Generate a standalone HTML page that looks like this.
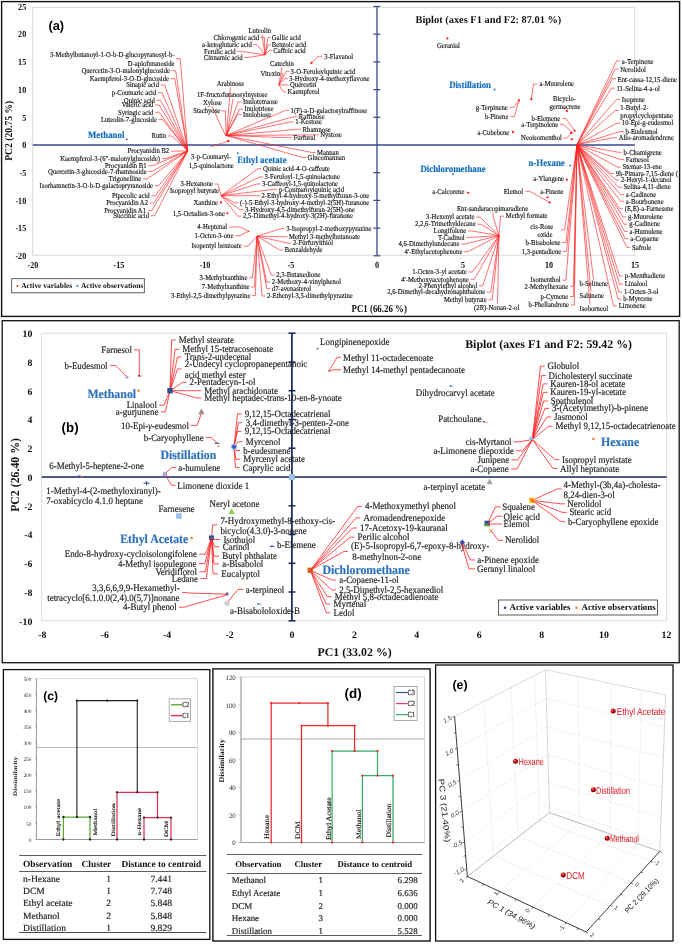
<!DOCTYPE html>
<html><head><meta charset="utf-8"><title>Figure</title>
<style>
html,body{margin:0;padding:0;background:#fff;}
body{width:682px;height:944px;overflow:hidden;font-family:"Liberation Serif",serif;}
svg{display:block;will-change:transform;}
text{text-rendering:geometricPrecision;}
text.s{font-family:"Liberation Serif",serif;}
text.k{stroke:#222;stroke-width:0.16px;}
text.n{font-family:"Liberation Sans",sans-serif;}
</style></head><body>
<svg width="682" height="944" viewBox="0 0 682 944">
<rect x="0" y="0" width="682" height="944" fill="#ffffff"/>
<g>
<rect x="1.6" y="1.6" width="678.0" height="314.8" fill="none" stroke="#111" stroke-width="1.4"/>
<rect x="32.8" y="7.3" width="601.9" height="247.9" fill="#fff" stroke="#d0d0d0" stroke-width="0.8"/>
<polyline points="32.8,145.0 634.7,145.0" fill="none" stroke="#36498c" stroke-width="1.3"/>
<polyline points="377.0,7.3 377.0,255.2" fill="none" stroke="#36498c" stroke-width="1.3"/>
<polyline points="373.4,6.5 380.3,6.5" fill="none" stroke="#36498c" stroke-width="1.2"/>
<polyline points="373.4,34.2 380.3,34.2" fill="none" stroke="#36498c" stroke-width="1.2"/>
<polyline points="373.4,61.9 380.3,61.9" fill="none" stroke="#36498c" stroke-width="1.2"/>
<polyline points="373.4,89.6 380.3,89.6" fill="none" stroke="#36498c" stroke-width="1.2"/>
<polyline points="373.4,117.3 380.3,117.3" fill="none" stroke="#36498c" stroke-width="1.2"/>
<polyline points="373.4,172.7 380.3,172.7" fill="none" stroke="#36498c" stroke-width="1.2"/>
<polyline points="373.4,200.4 380.3,200.4" fill="none" stroke="#36498c" stroke-width="1.2"/>
<polyline points="373.4,228.1 380.3,228.1" fill="none" stroke="#36498c" stroke-width="1.2"/>
<polyline points="373.4,255.8 380.3,255.8" fill="none" stroke="#36498c" stroke-width="1.2"/>
<text class="s" transform="translate(26.2 9.7) scale(1 1.15)" text-anchor="end" font-size="8.1" font-weight="bold" fill="#111">25</text>
<text class="s" transform="translate(26.2 37.4) scale(1 1.15)" text-anchor="end" font-size="8.1" font-weight="bold" fill="#111">20</text>
<text class="s" transform="translate(26.2 65.1) scale(1 1.15)" text-anchor="end" font-size="8.1" font-weight="bold" fill="#111">15</text>
<text class="s" transform="translate(26.2 92.8) scale(1 1.15)" text-anchor="end" font-size="8.1" font-weight="bold" fill="#111">10</text>
<text class="s" transform="translate(26.2 120.5) scale(1 1.15)" text-anchor="end" font-size="8.1" font-weight="bold" fill="#111">5</text>
<text class="s" transform="translate(26.2 148.2) scale(1 1.15)" text-anchor="end" font-size="8.1" font-weight="bold" fill="#111">0</text>
<text class="s" transform="translate(26.2 175.9) scale(1 1.15)" text-anchor="end" font-size="8.1" font-weight="bold" fill="#111">-5</text>
<text class="s" transform="translate(26.2 203.6) scale(1 1.15)" text-anchor="end" font-size="8.1" font-weight="bold" fill="#111">-10</text>
<text class="s" transform="translate(26.2 231.3) scale(1 1.15)" text-anchor="end" font-size="8.1" font-weight="bold" fill="#111">-15</text>
<text class="s" transform="translate(26.2 259.0) scale(1 1.15)" text-anchor="end" font-size="8.1" font-weight="bold" fill="#111">-20</text>
<text class="s" transform="translate(33.0 268.1) scale(1 1.15)" text-anchor="middle" font-size="8.1" font-weight="bold" fill="#111">-20</text>
<text class="s" transform="translate(119.0 268.1) scale(1 1.15)" text-anchor="middle" font-size="8.1" font-weight="bold" fill="#111">-15</text>
<text class="s" transform="translate(205.0 268.1) scale(1 1.15)" text-anchor="middle" font-size="8.1" font-weight="bold" fill="#111">-10</text>
<text class="s" transform="translate(291.0 268.1) scale(1 1.15)" text-anchor="middle" font-size="8.1" font-weight="bold" fill="#111">-5</text>
<text class="s" transform="translate(377.0 268.1) scale(1 1.15)" text-anchor="middle" font-size="8.1" font-weight="bold" fill="#111">0</text>
<text class="s" transform="translate(463.0 268.1) scale(1 1.15)" text-anchor="middle" font-size="8.1" font-weight="bold" fill="#111">5</text>
<text class="s" transform="translate(549.0 268.1) scale(1 1.15)" text-anchor="middle" font-size="8.1" font-weight="bold" fill="#111">10</text>
<text class="s" transform="translate(635.0 268.1) scale(1 1.15)" text-anchor="middle" font-size="8.1" font-weight="bold" fill="#111">15</text>
<text class="s" transform="rotate(-90 8.4 130.8) translate(8.4 134.0) scale(1 1.1)" text-anchor="middle" font-size="9.6" font-weight="bold" fill="#111">PC2 (20.75 %)</text>
<text class="s" transform="translate(379.2 312.2) scale(1 1.2)" text-anchor="middle" font-size="8.85" font-weight="bold" fill="#111">PC1 (66.26 %)</text>
<text class="s" x="488.4" y="23.1" text-anchor="middle" font-size="10.4" font-weight="bold" fill="#111">Biplot (axes F1 and F2: 87.01 %)</text>
<text class="n" x="48.4" y="29.8" text-anchor="start" font-size="12.8" font-weight="bold" fill="#000">(a)</text>
<rect x="11.7" y="278.7" width="132.6" height="14.1" fill="#fff" stroke="#333" stroke-width="0.8"/>
<circle cx="17.5" cy="286.0" r="1.0" fill="#ff2020"/>
<text class="s" x="21.2" y="288.0" text-anchor="start" font-size="7.45" font-weight="bold" fill="#111">Active variables</text>
<circle cx="77.3" cy="286.0" r="1.0" fill="#2e75b6"/>
<text class="s" x="81.0" y="288.0" text-anchor="start" font-size="7.45" font-weight="bold" fill="#111">Active observations</text>
<text class="s k" transform="translate(174.5 57.3) scale(1 1.12)" text-anchor="end" font-size="6.68" fill="#1a1a1a">3-Methylbutanoyl-1-O-b-D-glucopyranosyl-b-</text>
<polyline points="176.2,58.6 180.2,58.6 187.7,151.0" fill="none" stroke="#ff2020" stroke-width="0.64"/>
<text class="s k" transform="translate(174.5 65.5) scale(1 1.12)" text-anchor="end" font-size="6.68" fill="#1a1a1a">D-apiofuranoside</text>
<text class="s k" transform="translate(170.0 72.9) scale(1 1.12)" text-anchor="end" font-size="6.68" fill="#1a1a1a">Quercetin-3-O-malonylglucoside</text>
<polyline points="171.7,70.7 175.7,70.7 187.7,151.0" fill="none" stroke="#ff2020" stroke-width="0.64"/>
<text class="s k" transform="translate(169.0 80.8) scale(1 1.12)" text-anchor="end" font-size="6.68" fill="#1a1a1a">Kaempferol-3-O-D-glucoside</text>
<polyline points="170.7,78.6 174.7,78.6 187.7,151.0" fill="none" stroke="#ff2020" stroke-width="0.64"/>
<text class="s k" transform="translate(159.0 87.2) scale(1 1.12)" text-anchor="end" font-size="6.68" fill="#1a1a1a">Sinapic acid</text>
<polyline points="160.7,85.0 164.7,85.0 187.7,151.0" fill="none" stroke="#ff2020" stroke-width="0.64"/>
<text class="s k" transform="translate(156.3 94.9) scale(1 1.12)" text-anchor="end" font-size="6.68" fill="#1a1a1a">p-Coumaric acid</text>
<polyline points="158.0,92.7 162.0,92.7 187.7,151.0" fill="none" stroke="#ff2020" stroke-width="0.64"/>
<text class="s k" transform="translate(154.8 102.5) scale(1 1.12)" text-anchor="end" font-size="6.68" fill="#1a1a1a">Quinic acid</text>
<polyline points="156.5,100.3 160.5,100.3 187.7,151.0" fill="none" stroke="#ff2020" stroke-width="0.64"/>
<text class="s k" transform="translate(153.4 107.2) scale(1 1.12)" text-anchor="end" font-size="6.68" fill="#1a1a1a">Valeric acid</text>
<polyline points="155.1,105.0 159.1,105.0 187.7,151.0" fill="none" stroke="#ff2020" stroke-width="0.64"/>
<text class="s k" transform="translate(153.4 114.5) scale(1 1.12)" text-anchor="end" font-size="6.68" fill="#1a1a1a">Syringic acid</text>
<polyline points="155.1,112.3 159.1,112.3 187.7,151.0" fill="none" stroke="#ff2020" stroke-width="0.64"/>
<text class="s k" transform="translate(156.9 121.8) scale(1 1.12)" text-anchor="end" font-size="6.68" fill="#1a1a1a">Luteolin-7-glucoside</text>
<polyline points="158.6,119.6 162.6,119.6 187.7,151.0" fill="none" stroke="#ff2020" stroke-width="0.64"/>
<text class="s k" transform="translate(166.3 138.2) scale(1 1.12)" text-anchor="end" font-size="6.68" fill="#1a1a1a">Rutin</text>
<polyline points="168.0,136.0 172.0,136.0 187.7,151.0" fill="none" stroke="#ff2020" stroke-width="0.64"/>
<text class="s k" transform="translate(169.2 153.3) scale(1 1.12)" text-anchor="end" font-size="6.68" fill="#1a1a1a">Procyanidin B2</text>
<polyline points="170.9,151.1 174.9,151.1 187.7,151.0" fill="none" stroke="#ff2020" stroke-width="0.64"/>
<text class="s k" transform="translate(160.1 160.7) scale(1 1.12)" text-anchor="end" font-size="6.68" fill="#1a1a1a">Kaempferol-3-(6"-malonylglucoside)</text>
<polyline points="161.8,158.5 165.8,158.5 187.7,151.0" fill="none" stroke="#ff2020" stroke-width="0.64"/>
<text class="s k" transform="translate(146.6 168.0) scale(1 1.12)" text-anchor="end" font-size="6.68" fill="#1a1a1a">Procyanidin B1</text>
<polyline points="148.3,165.8 152.3,165.8 187.7,151.0" fill="none" stroke="#ff2020" stroke-width="0.64"/>
<text class="s k" transform="translate(146.6 173.6) scale(1 1.12)" text-anchor="end" font-size="6.68" fill="#1a1a1a">Quercetin-3-glucoside-7-rhamnoside</text>
<polyline points="148.3,171.4 152.3,171.4 187.7,151.0" fill="none" stroke="#ff2020" stroke-width="0.64"/>
<text class="s k" transform="translate(141.3 181.2) scale(1 1.12)" text-anchor="end" font-size="6.68" fill="#1a1a1a">Trigonelline</text>
<polyline points="143.0,179.0 147.0,179.0 187.7,151.0" fill="none" stroke="#ff2020" stroke-width="0.64"/>
<text class="s k" transform="translate(153.0 187.9) scale(1 1.12)" text-anchor="end" font-size="6.68" fill="#1a1a1a">Isorhamnetin-3-O-b-D-galactopryranoside</text>
<polyline points="154.7,185.7 158.7,185.7 187.7,151.0" fill="none" stroke="#ff2020" stroke-width="0.64"/>
<text class="s k" transform="translate(149.6 197.9) scale(1 1.12)" text-anchor="end" font-size="6.68" fill="#1a1a1a">Pipecolic acid</text>
<polyline points="151.3,195.7 155.3,195.7 187.7,151.0" fill="none" stroke="#ff2020" stroke-width="0.64"/>
<text class="s k" transform="translate(148.0 205.2) scale(1 1.12)" text-anchor="end" font-size="6.68" fill="#1a1a1a">Procyanidin A2</text>
<polyline points="149.7,203.0 153.7,203.0 187.7,151.0" fill="none" stroke="#ff2020" stroke-width="0.64"/>
<text class="s k" transform="translate(146.0 212.9) scale(1 1.12)" text-anchor="end" font-size="6.68" fill="#1a1a1a">Procyanidin A1</text>
<polyline points="147.7,210.7 151.7,210.7 187.7,151.0" fill="none" stroke="#ff2020" stroke-width="0.64"/>
<text class="s k" transform="translate(149.0 217.9) scale(1 1.12)" text-anchor="end" font-size="6.68" fill="#1a1a1a">Succinic acid</text>
<polyline points="150.7,215.7 154.7,215.7 187.7,151.0" fill="none" stroke="#ff2020" stroke-width="0.64"/>
<text class="s" transform="translate(88.0 137.9) scale(1 1.1)" text-anchor="start" font-size="8.85" font-weight="bold" fill="#0f6cc0" stroke="#0f6cc0" stroke-width="0.15">Methanol</text>
<circle cx="126.7" cy="139.3" r="1.0" fill="#2e75b6"/>
<text class="s k" transform="translate(259.8 32.7) scale(1 1.12)" text-anchor="middle" font-size="6.68" fill="#1a1a1a">Luteolin</text>
<polyline points="262.0,34.5 265.0,54.8" fill="none" stroke="#ff2020" stroke-width="0.64"/>
<text class="s k" transform="translate(259.2 39.7) scale(1 1.12)" text-anchor="end" font-size="6.68" fill="#1a1a1a">Chlorogenic acid</text>
<polyline points="260.9,37.5 264.4,37.5 265.0,54.8" fill="none" stroke="#ff2020" stroke-width="0.64"/>
<text class="s k" transform="translate(251.8 46.8) scale(1 1.12)" text-anchor="end" font-size="6.68" fill="#1a1a1a">a-ketoglutaric acid</text>
<polyline points="253.5,44.6 257.0,44.6 265.0,54.8" fill="none" stroke="#ff2020" stroke-width="0.64"/>
<text class="s k" transform="translate(235.7 53.5) scale(1 1.12)" text-anchor="end" font-size="6.68" fill="#1a1a1a">Ferulic acid</text>
<polyline points="237.4,51.3 240.9,51.3 265.0,54.8" fill="none" stroke="#ff2020" stroke-width="0.64"/>
<text class="s k" transform="translate(242.5 59.7) scale(1 1.12)" text-anchor="end" font-size="6.68" fill="#1a1a1a">Cinnamic acid</text>
<polyline points="244.2,57.5 247.7,57.5 265.0,54.8" fill="none" stroke="#ff2020" stroke-width="0.64"/>
<text class="s k" transform="translate(271.8 39.7) scale(1 1.12)" text-anchor="start" font-size="6.68" fill="#1a1a1a">Gallic acid</text>
<polyline points="270.6,37.5 268.1,37.5 265.0,54.8" fill="none" stroke="#ff2020" stroke-width="0.64"/>
<text class="s k" transform="translate(271.8 47.1) scale(1 1.12)" text-anchor="start" font-size="6.68" fill="#1a1a1a">Benzoic acid</text>
<polyline points="270.6,44.9 268.1,44.9 265.0,54.8" fill="none" stroke="#ff2020" stroke-width="0.64"/>
<text class="s k" transform="translate(273.3 52.6) scale(1 1.12)" text-anchor="start" font-size="6.68" fill="#1a1a1a">Caffeic acid</text>
<polyline points="272.1,50.4 269.6,50.4 265.0,54.8" fill="none" stroke="#ff2020" stroke-width="0.64"/>
<text class="s k" transform="translate(324.3 58.5) scale(1 1.12)" text-anchor="start" font-size="6.68" fill="#1a1a1a">3-Flavanol</text>
<polyline points="322.0,56.3 318.0,56.3 311.4,63.0" fill="none" stroke="#ff2020" stroke-width="0.64"/>
<circle cx="311.4" cy="63.0" r="1.15" fill="#ff2020"/>
<text class="s k" transform="translate(270.0 65.5) scale(1 1.12)" text-anchor="start" font-size="6.68" fill="#1a1a1a">Catechin</text>
<polyline points="282.0,67.5 278.8,85.0" fill="none" stroke="#ff2020" stroke-width="0.64"/>
<text class="s k" transform="translate(260.6 76.1) scale(1 1.12)" text-anchor="start" font-size="6.68" fill="#1a1a1a">Vitexin</text>
<polyline points="280.5,73.9 283.0,73.9 278.8,85.0" fill="none" stroke="#ff2020" stroke-width="0.64"/>
<text class="s k" transform="translate(290.6 73.5) scale(1 1.12)" text-anchor="start" font-size="6.68" fill="#1a1a1a">3-O-Feruloylquinic acid</text>
<polyline points="289.4,71.3 286.4,71.3 278.8,85.0" fill="none" stroke="#ff2020" stroke-width="0.64"/>
<text class="s k" transform="translate(289.1 80.8) scale(1 1.12)" text-anchor="start" font-size="6.68" fill="#1a1a1a">3-Hydroxy-4-methoxyflavone</text>
<polyline points="287.9,78.6 284.9,78.6 278.8,85.0" fill="none" stroke="#ff2020" stroke-width="0.64"/>
<text class="s k" transform="translate(290.0 87.0) scale(1 1.12)" text-anchor="start" font-size="6.68" fill="#1a1a1a">Quercetin</text>
<polyline points="288.8,84.8 285.8,84.8 278.8,85.0" fill="none" stroke="#ff2020" stroke-width="0.64"/>
<text class="s k" transform="translate(287.6 94.0) scale(1 1.12)" text-anchor="start" font-size="6.68" fill="#1a1a1a">Kaempferol</text>
<polyline points="286.4,91.8 283.4,91.8 278.8,85.0" fill="none" stroke="#ff2020" stroke-width="0.64"/>
<text class="s k" transform="translate(230.4 85.5) scale(1 1.12)" text-anchor="middle" font-size="6.68" fill="#1a1a1a">Arabinose</text>
<polyline points="230.4,87.3 226.5,135.5" fill="none" stroke="#ff2020" stroke-width="0.64"/>
<text class="s k" transform="translate(197.0 96.9) scale(1 1.12)" text-anchor="start" font-size="6.68" fill="#1a1a1a">1F-fructofuranosylnystose</text>
<polyline points="233.0,98.5 227.0,135.5" fill="none" stroke="#ff2020" stroke-width="0.64"/>
<text class="s k" transform="translate(202.9 104.8) scale(1 1.12)" text-anchor="start" font-size="6.68" fill="#1a1a1a">Xylose</text>
<polyline points="212.0,106.5 225.5,135.5" fill="none" stroke="#ff2020" stroke-width="0.64"/>
<text class="s k" transform="translate(193.2 113.1) scale(1 1.12)" text-anchor="start" font-size="6.68" fill="#1a1a1a">Stachyose</text>
<polyline points="221.0,110.9 225.5,110.9 226.0,135.5" fill="none" stroke="#ff2020" stroke-width="0.64"/>
<text class="s k" transform="translate(243.0 104.2) scale(1 1.12)" text-anchor="start" font-size="6.68" fill="#1a1a1a">Inulotetraose</text>
<polyline points="241.5,102.0 238.0,102.0 226.0,135.5" fill="none" stroke="#ff2020" stroke-width="0.64"/>
<text class="s k" transform="translate(244.5 111.3) scale(1 1.12)" text-anchor="start" font-size="6.68" fill="#1a1a1a">Inulotriose</text>
<polyline points="243.0,109.1 239.5,109.1 226.0,135.5" fill="none" stroke="#ff2020" stroke-width="0.64"/>
<text class="s k" transform="translate(243.0 116.6) scale(1 1.12)" text-anchor="start" font-size="6.68" fill="#1a1a1a">Inulobiose</text>
<polyline points="241.5,114.4 238.0,114.4 226.0,135.5" fill="none" stroke="#ff2020" stroke-width="0.64"/>
<text class="s k" transform="translate(290.6 112.5) scale(1 1.12)" text-anchor="start" font-size="6.68" fill="#1a1a1a">1(F)-a-D-galactosylraffinose</text>
<polyline points="289.1,110.3 285.6,110.3 226.0,135.5" fill="none" stroke="#ff2020" stroke-width="0.64"/>
<text class="s k" transform="translate(298.8 118.9) scale(1 1.12)" text-anchor="start" font-size="6.68" fill="#1a1a1a">Raffinose</text>
<polyline points="297.3,116.7 293.8,116.7 226.0,135.5" fill="none" stroke="#ff2020" stroke-width="0.64"/>
<text class="s k" transform="translate(295.2 124.2) scale(1 1.12)" text-anchor="start" font-size="6.68" fill="#1a1a1a">1-Kestose</text>
<polyline points="293.7,122.0 290.2,122.0 226.0,135.5" fill="none" stroke="#ff2020" stroke-width="0.64"/>
<text class="s k" transform="translate(302.6 131.5) scale(1 1.12)" text-anchor="start" font-size="6.68" fill="#1a1a1a">Rhamnose</text>
<polyline points="301.1,129.3 297.6,129.3 226.0,135.5" fill="none" stroke="#ff2020" stroke-width="0.64"/>
<text class="s k" transform="translate(320.2 137.1) scale(1 1.12)" text-anchor="start" font-size="6.68" fill="#1a1a1a">Nystose</text>
<polyline points="318.7,134.9 315.2,134.9 226.0,135.5" fill="none" stroke="#ff2020" stroke-width="0.64"/>
<text class="s k" transform="translate(293.5 140.0) scale(1 1.12)" text-anchor="start" font-size="6.68" fill="#1a1a1a">Furfural</text>
<polyline points="292.0,137.8 288.5,137.8 226.0,135.5" fill="none" stroke="#ff2020" stroke-width="0.64"/>
<text class="s k" transform="translate(317.0 154.7) scale(1 1.12)" text-anchor="start" font-size="6.68" fill="#1a1a1a">Mannan</text>
<polyline points="315.5,152.5 312.0,152.5 226.0,135.5" fill="none" stroke="#ff2020" stroke-width="0.64"/>
<text class="s k" transform="translate(307.6 159.7) scale(1 1.12)" text-anchor="start" font-size="6.68" fill="#1a1a1a">Glucomannan</text>
<polyline points="306.1,157.5 302.6,157.5 226.0,135.5" fill="none" stroke="#ff2020" stroke-width="0.64"/>
<circle cx="228.4" cy="141.0" r="1.15" fill="#ff2020"/>
<polyline points="210.8,146.8 228.0,141.2" fill="none" stroke="#ff2020" stroke-width="0.64"/>
<text class="s k" transform="translate(191.1 159.2) scale(1 1.12)" text-anchor="start" font-size="6.68" fill="#1a1a1a">3-p-Coumaryl-</text>
<text class="s k" transform="translate(188.8 167.7) scale(1 1.12)" text-anchor="start" font-size="6.68" fill="#1a1a1a">1,5-quinolactone</text>
<text class="s" transform="translate(237.2 163.1) scale(1 1.1)" text-anchor="start" font-size="8.85" font-weight="bold" fill="#0f6cc0" stroke="#0f6cc0" stroke-width="0.15">Ethyl acetate</text>
<circle cx="237.8" cy="153.2" r="1.0" fill="#2e75b6"/>
<text class="s k" transform="translate(263.0 170.9) scale(1 1.12)" text-anchor="start" font-size="6.68" fill="#1a1a1a">Quinic acid-4-O-caffeate</text>
<polyline points="261.5,168.7 258.0,168.7 221.0,195.7" fill="none" stroke="#ff2020" stroke-width="0.64"/>
<text class="s k" transform="translate(264.5 179.2) scale(1 1.12)" text-anchor="start" font-size="6.68" fill="#1a1a1a">3-Feruloyl-1,5-quinolactone</text>
<polyline points="263.0,177.0 259.5,177.0 221.0,195.7" fill="none" stroke="#ff2020" stroke-width="0.64"/>
<text class="s k" transform="translate(262.0 186.2) scale(1 1.12)" text-anchor="start" font-size="6.68" fill="#1a1a1a">3-Caffeoyl-1,5-quinolactone</text>
<polyline points="260.5,184.0 257.0,184.0 221.0,195.7" fill="none" stroke="#ff2020" stroke-width="0.64"/>
<text class="s k" transform="translate(279.0 191.5) scale(1 1.12)" text-anchor="start" font-size="6.68" fill="#1a1a1a">p-Coumaroylquinic acid</text>
<polyline points="277.5,189.3 274.0,189.3 221.0,195.7" fill="none" stroke="#ff2020" stroke-width="0.64"/>
<text class="s k" transform="translate(261.5 197.9) scale(1 1.12)" text-anchor="start" font-size="6.68" fill="#1a1a1a">2-Ethyl-4-hydroxy-5-methylfuran-3-one</text>
<polyline points="260.0,195.7 256.5,195.7 221.0,195.7" fill="none" stroke="#ff2020" stroke-width="0.64"/>
<text class="s k" transform="translate(240.0 205.0) scale(1 1.12)" text-anchor="start" font-size="6.68" fill="#1a1a1a">(-)-5-Ethyl-3-hydroxy-4-methyl-2(5H)-furanone</text>
<polyline points="238.5,202.8 235.0,202.8 221.0,195.7" fill="none" stroke="#ff2020" stroke-width="0.64"/>
<text class="s k" transform="translate(245.0 212.0) scale(1 1.12)" text-anchor="start" font-size="6.68" fill="#1a1a1a">3-Hydroxy-4,5-dimethylfuran-2(5H)-one</text>
<polyline points="243.5,209.8 240.0,209.8 221.0,195.7" fill="none" stroke="#ff2020" stroke-width="0.64"/>
<text class="s k" transform="translate(243.0 218.4) scale(1 1.12)" text-anchor="start" font-size="6.68" fill="#1a1a1a">2,5-Dimethyl-4-hydroxy-3(2H)-furanone</text>
<polyline points="241.5,216.2 238.0,216.2 221.0,195.7" fill="none" stroke="#ff2020" stroke-width="0.64"/>
<text class="s k" transform="translate(213.0 186.2) scale(1 1.12)" text-anchor="end" font-size="6.68" fill="#1a1a1a">3-Hexanone</text>
<polyline points="214.5,184.0 218.0,184.0 221.0,195.7" fill="none" stroke="#ff2020" stroke-width="0.64"/>
<text class="s k" transform="translate(219.0 192.9) scale(1 1.12)" text-anchor="end" font-size="6.68" fill="#1a1a1a">Isopropyl butyrate</text>
<text class="s k" transform="translate(218.0 205.2) scale(1 1.12)" text-anchor="end" font-size="6.68" fill="#1a1a1a">Xanthine</text>
<circle cx="221.0" cy="202.4" r="1.15" fill="#ff2020"/>
<text class="s k" transform="translate(224.9 216.1) scale(1 1.12)" text-anchor="end" font-size="6.68" fill="#1a1a1a">1,5-Octadien-3-one</text>
<circle cx="227.3" cy="213.3" r="1.15" fill="#ff2020"/>
<text class="s k" transform="translate(227.0 229.2) scale(1 1.12)" text-anchor="end" font-size="6.68" fill="#1a1a1a">4-Heptenal</text>
<polyline points="229.0,227.0 240.0,227.0 248.5,231.0" fill="none" stroke="#ff2020" stroke-width="0.64"/>
<text class="s k" transform="translate(233.4 237.8) scale(1 1.12)" text-anchor="end" font-size="6.68" fill="#1a1a1a">1-Octen-3-one</text>
<polyline points="235.4,235.6 240.0,235.6 248.5,231.3" fill="none" stroke="#ff2020" stroke-width="0.64"/>
<circle cx="248.7" cy="231.2" r="0.8" fill="#ff2020"/>
<text class="s k" transform="translate(241.6 248.4) scale(1 1.12)" text-anchor="end" font-size="6.68" fill="#1a1a1a">Isopentyl benzoate</text>
<polyline points="243.5,246.2 248.0,246.2 257.1,236.2" fill="none" stroke="#ff2020" stroke-width="0.64"/>
<text class="s k" transform="translate(286.2 230.8) scale(1 1.12)" text-anchor="start" font-size="6.68" fill="#1a1a1a">3-Isopropyl-2-methoxypyrazine</text>
<polyline points="284.7,228.6 281.2,228.6 257.1,236.2" fill="none" stroke="#ff2020" stroke-width="0.64"/>
<text class="s k" transform="translate(289.0 239.0) scale(1 1.12)" text-anchor="start" font-size="6.68" fill="#1a1a1a">Methyl 3-methylbutanoate</text>
<polyline points="287.5,236.8 284.0,236.8 257.1,236.2" fill="none" stroke="#ff2020" stroke-width="0.64"/>
<text class="s k" transform="translate(293.0 245.4) scale(1 1.12)" text-anchor="start" font-size="6.68" fill="#1a1a1a">2-Furfurylthiol</text>
<polyline points="291.5,243.2 288.0,243.2 257.1,236.2" fill="none" stroke="#ff2020" stroke-width="0.64"/>
<text class="s k" transform="translate(284.7 252.2) scale(1 1.12)" text-anchor="start" font-size="6.68" fill="#1a1a1a">Benzaldehyde</text>
<polyline points="283.2,250.0 279.7,250.0 257.1,236.2" fill="none" stroke="#ff2020" stroke-width="0.64"/>
<text class="s k" transform="translate(276.2 277.2) scale(1 1.12)" text-anchor="start" font-size="6.68" fill="#1a1a1a">2,3-Butanedione</text>
<polyline points="274.7,275.0 271.2,275.0 257.1,236.2" fill="none" stroke="#ff2020" stroke-width="0.64"/>
<text class="s k" transform="translate(271.8 284.4) scale(1 1.12)" text-anchor="start" font-size="6.68" fill="#1a1a1a">2-Methoxy-4-vinylphenol</text>
<polyline points="270.3,282.2 266.8,282.2 257.1,236.2" fill="none" stroke="#ff2020" stroke-width="0.64"/>
<text class="s k" transform="translate(271.8 290.9) scale(1 1.12)" text-anchor="start" font-size="6.68" fill="#1a1a1a">d7-avenasterol</text>
<polyline points="270.3,288.7 266.8,288.7 257.1,236.2" fill="none" stroke="#ff2020" stroke-width="0.64"/>
<text class="s k" transform="translate(267.0 298.2) scale(1 1.12)" text-anchor="start" font-size="6.68" fill="#1a1a1a">2-Ethenyl-3,5-dimethylpyrazine</text>
<polyline points="265.5,296.0 262.0,296.0 257.1,236.2" fill="none" stroke="#ff2020" stroke-width="0.64"/>
<text class="s k" transform="translate(247.4 280.0) scale(1 1.12)" text-anchor="end" font-size="6.68" fill="#1a1a1a">3-Methylxanthine</text>
<polyline points="248.9,277.8 252.4,277.8 257.1,236.2" fill="none" stroke="#ff2020" stroke-width="0.64"/>
<text class="s k" transform="translate(249.5 289.2) scale(1 1.12)" text-anchor="end" font-size="6.68" fill="#1a1a1a">7-Methylxanthine</text>
<polyline points="251.0,287.0 254.5,287.0 257.1,236.2" fill="none" stroke="#ff2020" stroke-width="0.64"/>
<text class="s k" transform="translate(250.4 297.8) scale(1 1.12)" text-anchor="end" font-size="6.68" fill="#1a1a1a">3-Ethyl-2,5-dimethylpyrazine</text>
<polyline points="251.9,295.6 255.4,295.6 257.1,236.2" fill="none" stroke="#ff2020" stroke-width="0.64"/>
<text class="s k" transform="translate(436.9 48.2) scale(1 1.12)" text-anchor="start" font-size="6.68" fill="#1a1a1a">Geranial</text>
<circle cx="447.4" cy="38.4" r="1.15" fill="#ff2020"/>
<text class="s" transform="translate(449.2 87.9) scale(1 1.1)" text-anchor="start" font-size="8.85" font-weight="bold" fill="#0f6cc0" stroke="#0f6cc0" stroke-width="0.15">Distillation</text>
<circle cx="494.6" cy="89.4" r="1.0" fill="#2e75b6"/>
<text class="s k" transform="translate(507.8 109.5) scale(1 1.12)" text-anchor="end" font-size="6.68" fill="#1a1a1a">g-Terpinene</text>
<polyline points="510.0,107.3 513.7,107.3 519.0,100.3" fill="none" stroke="#ff2020" stroke-width="0.64"/>
<text class="s k" transform="translate(508.4 118.9) scale(1 1.12)" text-anchor="end" font-size="6.68" fill="#1a1a1a">b-Pinene</text>
<polyline points="510.5,116.7 514.3,116.7 519.0,100.3" fill="none" stroke="#ff2020" stroke-width="0.64"/>
<circle cx="519.0" cy="100.3" r="1.15" fill="#ff2020"/>
<text class="s k" transform="translate(509.3 134.8) scale(1 1.12)" text-anchor="end" font-size="6.68" fill="#1a1a1a">a-Cubebene</text>
<circle cx="513.0" cy="132.0" r="1.15" fill="#ff2020"/>
<text class="s k" transform="translate(539.5 86.4) scale(1 1.12)" text-anchor="start" font-size="6.68" fill="#1a1a1a">a-Muurolene</text>
<polyline points="537.5,84.2 533.5,84.2 531.3,99.0" fill="none" stroke="#ff2020" stroke-width="0.64"/>
<circle cx="531.3" cy="99.2" r="1.15" fill="#ff2020"/>
<text class="s k" transform="translate(553.0 100.5) scale(1 1.12)" text-anchor="start" font-size="6.68" fill="#1a1a1a">Bicyclo-</text>
<text class="s k" transform="translate(549.4 109.0) scale(1 1.12)" text-anchor="start" font-size="6.68" fill="#1a1a1a">germacrene</text>
<circle cx="566.8" cy="111.0" r="1.15" fill="#ff2020"/>
<text class="s k" transform="translate(560.3 120.6) scale(1 1.12)" text-anchor="end" font-size="6.68" fill="#1a1a1a">b-Elemene</text>
<polyline points="562.5,118.4 565.7,118.4 574.6,130.6" fill="none" stroke="#ff2020" stroke-width="0.64"/>
<text class="s k" transform="translate(558.3 126.5) scale(1 1.12)" text-anchor="end" font-size="6.68" fill="#1a1a1a">a-Terpinolene</text>
<polyline points="559.8,124.3 563.4,124.3 573.5,133.7" fill="none" stroke="#ff2020" stroke-width="0.64"/>
<text class="s k" transform="translate(561.9 140.4) scale(1 1.12)" text-anchor="end" font-size="6.68" fill="#1a1a1a">Neoisomenthol</text>
<polyline points="563.4,138.2 566.8,138.2 571.2,133.0" fill="none" stroke="#ff2020" stroke-width="0.64"/>
<circle cx="574.6" cy="130.8" r="1.15" fill="#ff2020"/>
<circle cx="571.2" cy="133.0" r="1.15" fill="#ff2020"/>
<circle cx="571.9" cy="139.3" r="1.15" fill="#ff2020"/>
<text class="s k" transform="translate(621.8 64.2) scale(1 1.12)" text-anchor="start" font-size="6.68" fill="#1a1a1a">a-Terpinene</text>
<polyline points="620.0,60.8 616.7,60.8 577.0,144.7" fill="none" stroke="#ff2020" stroke-width="0.64"/>
<text class="s k" transform="translate(620.3 72.4) scale(1 1.12)" text-anchor="start" font-size="6.68" fill="#1a1a1a">Nerolidol</text>
<polyline points="618.5,69.0 615.2,69.0 577.0,144.7" fill="none" stroke="#ff2020" stroke-width="0.64"/>
<text class="s k" transform="translate(617.6 81.5) scale(1 1.12)" text-anchor="start" font-size="6.68" fill="#1a1a1a">Ent-cassa-12,15-diene</text>
<polyline points="615.8,78.5 612.5,78.5 577.0,144.7" fill="none" stroke="#ff2020" stroke-width="0.64"/>
<text class="s k" transform="translate(616.5 90.9) scale(1 1.12)" text-anchor="start" font-size="6.68" fill="#1a1a1a">11-Selina-4-a-ol</text>
<polyline points="614.7,88.2 611.4,88.2 577.0,144.7" fill="none" stroke="#ff2020" stroke-width="0.64"/>
<text class="s k" transform="translate(621.8 102.0) scale(1 1.12)" text-anchor="start" font-size="6.68" fill="#1a1a1a">Isoprene</text>
<polyline points="620.0,99.3 616.7,99.3 577.0,144.7" fill="none" stroke="#ff2020" stroke-width="0.64"/>
<text class="s k" transform="translate(620.3 109.8) scale(1 1.12)" text-anchor="start" font-size="6.68" fill="#1a1a1a">1-Butyl-2-</text>
<polyline points="618.5,110.5 615.2,110.5 577.0,144.7" fill="none" stroke="#ff2020" stroke-width="0.64"/>
<text class="s k" transform="translate(620.3 118.1) scale(1 1.12)" text-anchor="start" font-size="6.68" fill="#1a1a1a">propylcyclopentane</text>
<text class="s k" transform="translate(621.8 125.4) scale(1 1.12)" text-anchor="start" font-size="6.68" fill="#1a1a1a">10-Epi-g-eudesmol</text>
<polyline points="620.0,123.2 616.7,123.2 577.0,144.7" fill="none" stroke="#ff2020" stroke-width="0.64"/>
<text class="s k" transform="translate(625.4 133.7) scale(1 1.12)" text-anchor="start" font-size="6.68" fill="#1a1a1a">b-Eudesmol</text>
<polyline points="623.6,131.5 620.3,131.5 577.0,144.7" fill="none" stroke="#ff2020" stroke-width="0.64"/>
<text class="s k" transform="translate(618.7 139.9) scale(1 1.12)" text-anchor="start" font-size="6.68" fill="#1a1a1a">Allo-aromadendrene</text>
<polyline points="616.9,137.7 613.6,137.7 577.0,144.7" fill="none" stroke="#ff2020" stroke-width="0.64"/>
<text class="s k" transform="translate(623.6 154.5) scale(1 1.12)" text-anchor="start" font-size="6.68" fill="#1a1a1a">b-Chamigrene</text>
<polyline points="621.8,152.3 618.5,152.3 577.0,144.7" fill="none" stroke="#ff2020" stroke-width="0.64"/>
<text class="s k" transform="translate(625.8 161.8) scale(1 1.12)" text-anchor="start" font-size="6.68" fill="#1a1a1a">Farnesol</text>
<polyline points="624.0,159.6 620.7,159.6 577.0,144.7" fill="none" stroke="#ff2020" stroke-width="0.64"/>
<text class="s k" transform="translate(622.5 169.4) scale(1 1.12)" text-anchor="start" font-size="6.68" fill="#1a1a1a">Stemar-13-ene</text>
<polyline points="620.7,167.2 617.4,167.2 577.0,144.7" fill="none" stroke="#ff2020" stroke-width="0.64"/>
<text class="s k" transform="translate(615.8 175.6) scale(1 1.12)" text-anchor="start" font-size="6.68" fill="#1a1a1a">9b-Pimara-7,15-diene (</text>
<polyline points="614.0,173.4 610.7,173.4 577.0,144.7" fill="none" stroke="#ff2020" stroke-width="0.64"/>
<text class="s k" transform="translate(621.0 182.2) scale(1 1.12)" text-anchor="start" font-size="6.68" fill="#1a1a1a">2-Hexyl-1-decanol</text>
<polyline points="619.2,180.0 615.9,180.0 577.0,144.7" fill="none" stroke="#ff2020" stroke-width="0.64"/>
<text class="s k" transform="translate(623.6 189.4) scale(1 1.12)" text-anchor="start" font-size="6.68" fill="#1a1a1a">Selina-4,11-diene</text>
<polyline points="621.8,187.2 618.5,187.2 577.0,144.7" fill="none" stroke="#ff2020" stroke-width="0.64"/>
<text class="s k" transform="translate(625.8 196.8) scale(1 1.12)" text-anchor="start" font-size="6.68" fill="#1a1a1a">a-Cadinene</text>
<polyline points="624.0,194.6 620.7,194.6 577.0,144.7" fill="none" stroke="#ff2020" stroke-width="0.64"/>
<text class="s k" transform="translate(625.8 203.5) scale(1 1.12)" text-anchor="start" font-size="6.68" fill="#1a1a1a">a-Bourbonene</text>
<polyline points="624.0,201.3 620.7,201.3 577.0,144.7" fill="none" stroke="#ff2020" stroke-width="0.64"/>
<text class="s k" transform="translate(624.7 210.6) scale(1 1.12)" text-anchor="start" font-size="6.68" fill="#1a1a1a">(E,E)-a-Farnesene</text>
<polyline points="622.9,208.4 619.6,208.4 577.0,144.7" fill="none" stroke="#ff2020" stroke-width="0.64"/>
<text class="s k" transform="translate(628.0 219.1) scale(1 1.12)" text-anchor="start" font-size="6.68" fill="#1a1a1a">g-Muurolene</text>
<polyline points="626.2,216.9 622.9,216.9 577.0,144.7" fill="none" stroke="#ff2020" stroke-width="0.64"/>
<text class="s k" transform="translate(629.2 226.4) scale(1 1.12)" text-anchor="start" font-size="6.68" fill="#1a1a1a">g-Cadinene</text>
<polyline points="627.4,224.2 624.1,224.2 577.0,144.7" fill="none" stroke="#ff2020" stroke-width="0.64"/>
<text class="s k" transform="translate(629.6 233.6) scale(1 1.12)" text-anchor="start" font-size="6.68" fill="#1a1a1a">a-Humulene</text>
<polyline points="627.8,231.4 624.5,231.4 577.0,144.7" fill="none" stroke="#ff2020" stroke-width="0.64"/>
<text class="s k" transform="translate(630.3 240.9) scale(1 1.12)" text-anchor="start" font-size="6.68" fill="#1a1a1a">a-Copaene</text>
<polyline points="628.5,238.7 625.2,238.7 577.0,144.7" fill="none" stroke="#ff2020" stroke-width="0.64"/>
<text class="s k" transform="translate(632.0 249.6) scale(1 1.12)" text-anchor="start" font-size="6.68" fill="#1a1a1a">Safrole</text>
<polyline points="630.2,247.4 626.9,247.4 577.0,144.7" fill="none" stroke="#ff2020" stroke-width="0.64"/>
<text class="s k" transform="translate(624.7 278.2) scale(1 1.12)" text-anchor="start" font-size="6.68" fill="#1a1a1a">p-Menthadiene</text>
<polyline points="622.9,276.0 619.6,276.0 577.0,144.7" fill="none" stroke="#ff2020" stroke-width="0.64"/>
<text class="s k" transform="translate(624.7 286.4) scale(1 1.12)" text-anchor="start" font-size="6.68" fill="#1a1a1a">Linalool</text>
<polyline points="622.9,284.2 619.6,284.2 577.0,144.7" fill="none" stroke="#ff2020" stroke-width="0.64"/>
<text class="s k" transform="translate(624.0 294.2) scale(1 1.12)" text-anchor="start" font-size="6.68" fill="#1a1a1a">1-Octen-3-ol</text>
<polyline points="622.2,292.0 618.9,292.0 577.0,144.7" fill="none" stroke="#ff2020" stroke-width="0.64"/>
<text class="s k" transform="translate(623.2 301.3) scale(1 1.12)" text-anchor="start" font-size="6.68" fill="#1a1a1a">b-Myrcene</text>
<polyline points="621.4,299.1 618.1,299.1 577.0,144.7" fill="none" stroke="#ff2020" stroke-width="0.64"/>
<text class="s k" transform="translate(618.7 308.2) scale(1 1.12)" text-anchor="start" font-size="6.68" fill="#1a1a1a">Limonene</text>
<polyline points="616.9,306.0 613.6,306.0 577.0,144.7" fill="none" stroke="#ff2020" stroke-width="0.64"/>
<text class="s" transform="translate(528.4 165.6) scale(1 1.1)" text-anchor="start" font-size="8.85" font-weight="bold" fill="#0f6cc0" stroke="#0f6cc0" stroke-width="0.15">n-Hexane</text>
<circle cx="570.0" cy="165.6" r="1.0" fill="#2e75b6"/>
<text class="s k" transform="translate(564.0 180.6) scale(1 1.12)" text-anchor="end" font-size="6.68" fill="#1a1a1a">a-Ylangene</text>
<circle cx="566.8" cy="179.7" r="1.15" fill="#ff2020"/>
<text class="s k" transform="translate(563.5 193.5) scale(1 1.12)" text-anchor="end" font-size="6.68" fill="#1a1a1a">a-Pinene</text>
<circle cx="547.4" cy="197.3" r="1.15" fill="#ff2020"/>
<circle cx="549.6" cy="202.4" r="1.15" fill="#ff2020"/>
<text class="s k" transform="translate(523.0 194.2) scale(1 1.12)" text-anchor="end" font-size="6.68" fill="#1a1a1a">Elemol</text>
<polyline points="525.4,191.3 529.8,191.3 549.5,202.3" fill="none" stroke="#ff2020" stroke-width="0.64"/>
<text class="s" transform="translate(420.4 171.6) scale(1 1.1)" text-anchor="start" font-size="8.85" font-weight="bold" fill="#0f6cc0" stroke="#0f6cc0" stroke-width="0.15">Dichloromethane</text>
<circle cx="453.0" cy="174.3" r="1.0" fill="#2e75b6"/>
<text class="s k" transform="translate(464.4 194.4) scale(1 1.12)" text-anchor="end" font-size="6.68" fill="#1a1a1a">a-Calcorene</text>
<circle cx="468.2" cy="192.8" r="1.15" fill="#ff2020"/>
<text class="s k" transform="translate(457.0 210.5) scale(1 1.12)" text-anchor="start" font-size="6.68" fill="#1a1a1a">Ent-sandaracopimaradiene</text>
<polyline points="493.0,212.5 493.0,216.0 499.0,235.6" fill="none" stroke="#ff2020" stroke-width="0.64"/>
<text class="s k" transform="translate(505.8 218.4) scale(1 1.12)" text-anchor="start" font-size="6.68" fill="#1a1a1a">Methyl formate</text>
<polyline points="504.0,216.2 500.5,216.2 499.0,235.6" fill="none" stroke="#ff2020" stroke-width="0.64"/>
<text class="s k" transform="translate(474.4 219.3) scale(1 1.12)" text-anchor="end" font-size="6.68" fill="#1a1a1a">3-Hexenyl acetate</text>
<polyline points="476.1,217.1 479.9,217.1 499.0,235.6" fill="none" stroke="#ff2020" stroke-width="0.64"/>
<text class="s k" transform="translate(475.6 226.4) scale(1 1.12)" text-anchor="end" font-size="6.68" fill="#1a1a1a">2,2,6-Trimethyldecane</text>
<polyline points="477.3,224.2 481.1,224.2 499.0,235.6" fill="none" stroke="#ff2020" stroke-width="0.64"/>
<text class="s k" transform="translate(466.2 233.1) scale(1 1.12)" text-anchor="end" font-size="6.68" fill="#1a1a1a">Longifolene</text>
<polyline points="467.9,230.9 471.7,230.9 499.0,235.6" fill="none" stroke="#ff2020" stroke-width="0.64"/>
<text class="s k" transform="translate(464.7 239.6) scale(1 1.12)" text-anchor="end" font-size="6.68" fill="#1a1a1a">T-Cadinol</text>
<polyline points="466.4,237.4 470.2,237.4 499.0,235.6" fill="none" stroke="#ff2020" stroke-width="0.64"/>
<text class="s k" transform="translate(459.4 246.3) scale(1 1.12)" text-anchor="end" font-size="6.68" fill="#1a1a1a">4,6-Dimethylundecane</text>
<polyline points="461.1,244.1 464.9,244.1 499.0,235.6" fill="none" stroke="#ff2020" stroke-width="0.64"/>
<text class="s k" transform="translate(462.4 253.9) scale(1 1.12)" text-anchor="end" font-size="6.68" fill="#1a1a1a">4'-Ethylacetophenone</text>
<polyline points="464.1,251.7 467.9,251.7 499.0,235.6" fill="none" stroke="#ff2020" stroke-width="0.64"/>
<text class="s k" transform="translate(466.8 274.2) scale(1 1.12)" text-anchor="end" font-size="6.68" fill="#1a1a1a">1-Octen-3-yl acetate</text>
<polyline points="468.5,272.0 472.3,272.0 499.0,235.6" fill="none" stroke="#ff2020" stroke-width="0.64"/>
<text class="s k" transform="translate(468.8 281.5) scale(1 1.12)" text-anchor="end" font-size="6.68" fill="#1a1a1a">4'-Methoxyacetophenone</text>
<polyline points="470.5,279.3 474.3,279.3 499.0,235.6" fill="none" stroke="#ff2020" stroke-width="0.64"/>
<text class="s k" transform="translate(477.3 287.9) scale(1 1.12)" text-anchor="end" font-size="6.68" fill="#1a1a1a">2-Phenylethyl alcohol</text>
<polyline points="479.0,285.7 482.8,285.7 499.0,235.6" fill="none" stroke="#ff2020" stroke-width="0.64"/>
<text class="s k" transform="translate(485.2 294.4) scale(1 1.12)" text-anchor="end" font-size="6.68" fill="#1a1a1a">2,6-Dimethyl-decahydronaphthalene</text>
<polyline points="486.9,292.2 490.7,292.2 499.0,235.6" fill="none" stroke="#ff2020" stroke-width="0.64"/>
<text class="s k" transform="translate(486.7 302.0) scale(1 1.12)" text-anchor="end" font-size="6.68" fill="#1a1a1a">Methyl butyrate</text>
<polyline points="488.4,299.8 492.2,299.8 499.0,235.6" fill="none" stroke="#ff2020" stroke-width="0.64"/>
<text class="s k" transform="translate(474.1 309.9) scale(1 1.12)" text-anchor="start" font-size="6.68" fill="#1a1a1a">(2R)-Nonan-2-ol</text>
<polyline points="497.5,303.5 499.0,235.6" fill="none" stroke="#ff2020" stroke-width="0.64"/>
<text class="s k" transform="translate(553.3 229.2) scale(1 1.12)" text-anchor="end" font-size="6.68" fill="#1a1a1a">cis-Rose</text>
<text class="s k" transform="translate(552.4 236.9) scale(1 1.12)" text-anchor="end" font-size="6.68" fill="#1a1a1a">oxide</text>
<polyline points="561.2,229.8 564.5,229.8 577.0,144.7" fill="none" stroke="#ff2020" stroke-width="0.64"/>
<text class="s k" transform="translate(560.6 244.8) scale(1 1.12)" text-anchor="end" font-size="6.68" fill="#1a1a1a">b-Bisabolene</text>
<polyline points="562.3,242.6 565.9,242.6 577.0,144.7" fill="none" stroke="#ff2020" stroke-width="0.64"/>
<text class="s k" transform="translate(561.2 253.6) scale(1 1.12)" text-anchor="end" font-size="6.68" fill="#1a1a1a">1,3-pentadiene</text>
<polyline points="562.9,251.4 566.5,251.4 577.0,144.7" fill="none" stroke="#ff2020" stroke-width="0.64"/>
<text class="s k" transform="translate(560.6 282.4) scale(1 1.12)" text-anchor="end" font-size="6.68" fill="#1a1a1a">Isomenthol</text>
<polyline points="562.3,280.2 565.9,280.2 577.0,144.7" fill="none" stroke="#ff2020" stroke-width="0.64"/>
<text class="s k" transform="translate(568.3 288.5) scale(1 1.12)" text-anchor="end" font-size="6.68" fill="#1a1a1a">2-Methylhexane</text>
<polyline points="570.0,286.3 573.6,286.3 577.0,144.7" fill="none" stroke="#ff2020" stroke-width="0.64"/>
<text class="s k" transform="translate(568.3 298.7) scale(1 1.12)" text-anchor="end" font-size="6.68" fill="#1a1a1a">p-Cymene</text>
<polyline points="570.0,296.5 573.6,296.5 577.0,144.7" fill="none" stroke="#ff2020" stroke-width="0.64"/>
<text class="s k" transform="translate(569.0 307.2) scale(1 1.12)" text-anchor="end" font-size="6.68" fill="#1a1a1a">b-Phellandrene</text>
<polyline points="570.7,305.0 574.3,305.0 577.0,144.7" fill="none" stroke="#ff2020" stroke-width="0.64"/>
<text class="s k" transform="translate(579.5 286.4) scale(1 1.12)" text-anchor="start" font-size="6.68" fill="#1a1a1a">b-Selinene</text>
<text class="s k" transform="translate(579.5 297.5) scale(1 1.12)" text-anchor="start" font-size="6.68" fill="#1a1a1a">Sabinene</text>
<text class="s k" transform="translate(579.5 310.5) scale(1 1.12)" text-anchor="start" font-size="6.68" fill="#1a1a1a">Isoborneol</text>
<polyline points="577.0,144.7 593.5,279.5" fill="none" stroke="#ff2020" stroke-width="0.64"/>
<polyline points="577.0,144.7 591.0,291.5" fill="none" stroke="#ff2020" stroke-width="0.64"/>
<polyline points="577.0,144.7 590.0,304.5" fill="none" stroke="#ff2020" stroke-width="0.64"/>
<circle cx="577.0" cy="144.7" r="1.0" fill="#ff2020"/>
<rect x="2.2" y="320.7" width="677.0" height="342.0" fill="none" stroke="#111" stroke-width="1.3"/>
<rect x="41.7" y="333.2" width="625.0" height="287.6" fill="#fff" stroke="#d4d4d4" stroke-width="0.8"/>
<polyline points="41.7,477.0 666.7,477.0" fill="none" stroke="#17235f" stroke-width="1.7"/>
<polyline points="291.9,333.2 291.9,620.8" fill="none" stroke="#17235f" stroke-width="1.7"/>
<polyline points="288.5,333.2 295.5,333.2" fill="none" stroke="#17235f" stroke-width="1.5"/>
<polyline points="288.5,362.0 295.5,362.0" fill="none" stroke="#17235f" stroke-width="1.5"/>
<polyline points="288.5,390.7 295.5,390.7" fill="none" stroke="#17235f" stroke-width="1.5"/>
<polyline points="288.5,419.5 295.5,419.5" fill="none" stroke="#17235f" stroke-width="1.5"/>
<polyline points="288.5,448.2 295.5,448.2" fill="none" stroke="#17235f" stroke-width="1.5"/>
<polyline points="288.5,505.8 295.5,505.8" fill="none" stroke="#17235f" stroke-width="1.5"/>
<polyline points="288.5,534.5 295.5,534.5" fill="none" stroke="#17235f" stroke-width="1.5"/>
<polyline points="288.5,563.3 295.5,563.3" fill="none" stroke="#17235f" stroke-width="1.5"/>
<polyline points="288.5,592.0 295.5,592.0" fill="none" stroke="#17235f" stroke-width="1.5"/>
<polyline points="288.5,620.8 295.5,620.8" fill="none" stroke="#17235f" stroke-width="1.5"/>
<text class="s" x="32.3" y="337.0" text-anchor="end" font-size="9.8" font-weight="bold" fill="#111">10</text>
<text class="s" x="32.3" y="365.8" text-anchor="end" font-size="9.8" font-weight="bold" fill="#111">8</text>
<text class="s" x="32.3" y="394.6" text-anchor="end" font-size="9.8" font-weight="bold" fill="#111">6</text>
<text class="s" x="32.3" y="423.3" text-anchor="end" font-size="9.8" font-weight="bold" fill="#111">4</text>
<text class="s" x="32.3" y="452.1" text-anchor="end" font-size="9.8" font-weight="bold" fill="#111">2</text>
<text class="s" x="32.3" y="480.8" text-anchor="end" font-size="9.8" font-weight="bold" fill="#111">0</text>
<text class="s" x="32.3" y="509.6" text-anchor="end" font-size="9.8" font-weight="bold" fill="#111">-2</text>
<text class="s" x="32.3" y="538.4" text-anchor="end" font-size="9.8" font-weight="bold" fill="#111">-4</text>
<text class="s" x="32.3" y="567.1" text-anchor="end" font-size="9.8" font-weight="bold" fill="#111">-6</text>
<text class="s" x="32.3" y="595.9" text-anchor="end" font-size="9.8" font-weight="bold" fill="#111">-8</text>
<text class="s" x="32.3" y="624.6" text-anchor="end" font-size="9.8" font-weight="bold" fill="#111">-10</text>
<text class="s" x="42.4" y="637.6" text-anchor="middle" font-size="9.8" font-weight="bold" fill="#111">-8</text>
<text class="s" x="104.8" y="637.6" text-anchor="middle" font-size="9.8" font-weight="bold" fill="#111">-6</text>
<text class="s" x="167.2" y="637.6" text-anchor="middle" font-size="9.8" font-weight="bold" fill="#111">-4</text>
<text class="s" x="229.6" y="637.6" text-anchor="middle" font-size="9.8" font-weight="bold" fill="#111">-2</text>
<text class="s" x="292.0" y="637.6" text-anchor="middle" font-size="9.8" font-weight="bold" fill="#111">0</text>
<text class="s" x="354.4" y="637.6" text-anchor="middle" font-size="9.8" font-weight="bold" fill="#111">2</text>
<text class="s" x="416.8" y="637.6" text-anchor="middle" font-size="9.8" font-weight="bold" fill="#111">4</text>
<text class="s" x="479.2" y="637.6" text-anchor="middle" font-size="9.8" font-weight="bold" fill="#111">6</text>
<text class="s" x="541.6" y="637.6" text-anchor="middle" font-size="9.8" font-weight="bold" fill="#111">8</text>
<text class="s" x="604.0" y="637.6" text-anchor="middle" font-size="9.8" font-weight="bold" fill="#111">10</text>
<text class="s" x="666.4" y="637.6" text-anchor="middle" font-size="9.8" font-weight="bold" fill="#111">12</text>
<text class="s" transform="rotate(-90 15.0 475.0) translate(15.0 478.7) scale(1 1.05)" text-anchor="middle" font-size="11.8" font-weight="bold" fill="#111">PC2 (26.40 %)</text>
<text class="s" x="354.6" y="655.8" text-anchor="middle" font-size="11.9" font-weight="bold" fill="#111">PC1 (33.02 %)</text>
<text class="s" x="548.6" y="348.2" text-anchor="middle" font-size="11.9" font-weight="bold" fill="#111">Biplot (axes F1 and F2: 59.42 %)</text>
<text class="n" x="61.6" y="432.0" text-anchor="start" font-size="13.3" font-weight="bold" fill="#000">(b)</text>
<rect x="498.5" y="600.0" width="159.0" height="15.0" fill="#fff" stroke="#333" stroke-width="0.8"/>
<circle cx="505.0" cy="607.7" r="1.25" fill="#1f3c88"/>
<text class="s" x="509.5" y="610.2" text-anchor="start" font-size="8.9" font-weight="bold" fill="#111">Active variables</text>
<circle cx="576.5" cy="607.7" r="1.25" fill="#f08020"/>
<text class="s" x="581.5" y="610.2" text-anchor="start" font-size="8.9" font-weight="bold" fill="#111">Active observations</text>
<text class="s k" transform="translate(132.0 353.2) scale(1 1.1)" text-anchor="end" font-size="8.93" fill="#1a1a1a">Farnesol</text>
<polyline points="134.0,349.8 139.3,349.8 139.3,375.0" fill="none" stroke="#ff2020" stroke-width="0.8"/>
<rect x="138.1" y="374.9" width="1.8" height="1.8" fill="#2a3f8f" stroke="none" stroke-width="1"/>
<polyline points="139.5,376.0 142.5,376.0" fill="none" stroke="#f08020" stroke-width="0.9"/>
<text class="s k" transform="translate(107.6 369.3) scale(1 1.1)" text-anchor="end" font-size="8.93" fill="#1a1a1a">b-Eudesmol</text>
<polyline points="110.0,365.6 115.8,365.6 126.7,376.6" fill="none" stroke="#ff2020" stroke-width="0.8"/>
<polyline points="125.3,377.2 128.7,377.2" fill="none" stroke="#6a7fd0" stroke-width="0.7"/>
<polyline points="127.0,375.5 127.0,378.9" fill="none" stroke="#6a7fd0" stroke-width="0.7"/>
<text class="s" transform="translate(87.4 397.8) scale(1 1.08)" text-anchor="start" font-size="11.85" font-weight="bold" fill="#2c72ba" stroke="#2c72ba" stroke-width="0.15">Methanol</text>
<circle cx="138.4" cy="390.8" r="1.3" fill="#f08020"/>
<text class="s k" transform="translate(156.9 408.2) scale(1 1.1)" text-anchor="end" font-size="8.93" fill="#1a1a1a">Linalool</text>
<polyline points="159.4,405.2 163.9,405.2 170.0,390.7" fill="none" stroke="#ff2020" stroke-width="0.8"/>
<text class="s k" transform="translate(158.4 414.8) scale(1 1.1)" text-anchor="end" font-size="8.93" fill="#1a1a1a">a-gurjunene</text>
<polyline points="160.9,411.8 165.4,411.8 170.0,390.7" fill="none" stroke="#ff2020" stroke-width="0.8"/>
<text class="s k" transform="translate(178.8 343.0) scale(1 1.1)" text-anchor="start" font-size="8.93" fill="#1a1a1a">Methyl stearate</text>
<polyline points="175.8,340.0 171.6,340.0 170.0,390.7" fill="none" stroke="#ff2020" stroke-width="0.8"/>
<text class="s k" transform="translate(182.3 352.3) scale(1 1.1)" text-anchor="start" font-size="8.93" fill="#1a1a1a">Methyl 15-tetracosenoate</text>
<polyline points="179.3,349.3 175.1,349.3 170.0,390.7" fill="none" stroke="#ff2020" stroke-width="0.8"/>
<text class="s k" transform="translate(184.7 360.0) scale(1 1.1)" text-anchor="start" font-size="8.93" fill="#1a1a1a">Trans-2-undecenal</text>
<polyline points="181.7,357.0 177.5,357.0 170.0,390.7" fill="none" stroke="#ff2020" stroke-width="0.8"/>
<text class="s k" transform="translate(184.7 367.3) scale(1 1.1)" text-anchor="start" font-size="8.93" fill="#1a1a1a">2-Undecyl cyclopropanepentanoic</text>
<polyline points="181.7,369.0 177.5,369.0 170.0,390.7" fill="none" stroke="#ff2020" stroke-width="0.8"/>
<text class="s k" transform="translate(184.7 378.0) scale(1 1.1)" text-anchor="start" font-size="8.93" fill="#1a1a1a">acid methyl ester</text>
<text class="s k" transform="translate(189.6 385.4) scale(1 1.1)" text-anchor="start" font-size="8.93" fill="#1a1a1a">2-Pentadecyn-1-ol</text>
<polyline points="186.6,382.4 182.4,382.4 170.0,390.7" fill="none" stroke="#ff2020" stroke-width="0.8"/>
<text class="s k" transform="translate(204.3 393.7) scale(1 1.1)" text-anchor="start" font-size="8.93" fill="#1a1a1a">Methyl arachidonate</text>
<polyline points="201.3,390.7 197.1,390.7 170.0,390.7" fill="none" stroke="#ff2020" stroke-width="0.8"/>
<text class="s k" transform="translate(204.3 401.0) scale(1 1.1)" text-anchor="start" font-size="8.93" fill="#1a1a1a">Methyl heptadec-trans-10-en-8-ynoate</text>
<polyline points="201.3,398.0 197.1,398.0 170.0,390.7" fill="none" stroke="#ff2020" stroke-width="0.8"/>
<rect x="167.3" y="388.0" width="5.4" height="5.4" fill="#2c5596" stroke="none" stroke-width="1"/>
<text class="s k" transform="translate(189.0 429.4) scale(1 1.1)" text-anchor="end" font-size="8.93" fill="#1a1a1a">10-Epi-<tspan font-style="italic">γ</tspan>-eudesmol</text>
<polyline points="191.0,425.4 197.0,425.4 201.4,413.5" fill="none" stroke="#ff2020" stroke-width="0.8"/>
<polygon points="201.4,408.5 198.4,414.3 204.4,414.3" fill="#8a8a8a"/>
<polyline points="200.8,413.2 203.0,413.2" fill="none" stroke="#f08020" stroke-width="0.9"/>
<text class="s k" transform="translate(203.7 440.6) scale(1 1.1)" text-anchor="end" font-size="8.93" fill="#1a1a1a">b-Caryophyllene</text>
<polyline points="206.0,437.6 211.0,437.6 217.0,442.8" fill="none" stroke="#ff2020" stroke-width="0.8"/>
<polyline points="214.5,443.3 219.5,443.3" fill="none" stroke="#1f2f6f" stroke-width="0.9"/>
<circle cx="218.4" cy="446.2" r="0.9" fill="#f08020"/>
<text class="s" transform="translate(160.4 459.4) scale(1 1.08)" text-anchor="start" font-size="11.85" font-weight="bold" fill="#2c72ba" stroke="#2c72ba" stroke-width="0.15">Distillation</text>
<text class="s k" transform="translate(244.8 416.8) scale(1 1.1)" text-anchor="start" font-size="8.93" fill="#1a1a1a">9,12,15-Octadecatrienal</text>
<polyline points="241.5,413.8 237.5,413.8 234.0,446.8" fill="none" stroke="#ff2020" stroke-width="0.8"/>
<text class="s k" transform="translate(245.7 425.6) scale(1 1.1)" text-anchor="start" font-size="8.93" fill="#1a1a1a">3,4-dimethyl-3-penten-2-one</text>
<polyline points="242.4,422.6 238.4,422.6 234.0,446.8" fill="none" stroke="#ff2020" stroke-width="0.8"/>
<text class="s k" transform="translate(244.8 434.4) scale(1 1.1)" text-anchor="start" font-size="8.93" fill="#1a1a1a">9,12,15-Octadecatrienal</text>
<polyline points="241.5,431.4 237.5,431.4 234.0,446.8" fill="none" stroke="#ff2020" stroke-width="0.8"/>
<text class="s k" transform="translate(245.7 444.7) scale(1 1.1)" text-anchor="start" font-size="8.93" fill="#1a1a1a">Myrcenol</text>
<polyline points="242.4,441.7 238.4,441.7 234.0,446.8" fill="none" stroke="#ff2020" stroke-width="0.8"/>
<text class="s k" transform="translate(243.3 453.5) scale(1 1.1)" text-anchor="start" font-size="8.93" fill="#1a1a1a">b-eudesmene</text>
<polyline points="240.0,450.5 236.0,450.5 234.0,446.8" fill="none" stroke="#ff2020" stroke-width="0.8"/>
<text class="s k" transform="translate(243.3 462.3) scale(1 1.1)" text-anchor="start" font-size="8.93" fill="#1a1a1a">Myrcenyl acetate</text>
<polyline points="240.0,459.3 236.0,459.3 234.0,446.8" fill="none" stroke="#ff2020" stroke-width="0.8"/>
<text class="s k" transform="translate(242.7 470.5) scale(1 1.1)" text-anchor="start" font-size="8.93" fill="#1a1a1a">Caprylic acid</text>
<polyline points="239.4,467.5 235.4,467.5 234.0,446.8" fill="none" stroke="#ff2020" stroke-width="0.8"/>
<circle cx="234.0" cy="446.8" r="3.0" fill="#9db4e8"/>
<polygon points="234.0,444.3 236.5,446.8 234.0,449.3 231.5,446.8" fill="#3358c4"/>
<text class="s k" transform="translate(49.3 469.0) scale(1 1.1)" text-anchor="start" font-size="8.93" fill="#1a1a1a">6-Methyl-5-heptene-2-one</text>
<polyline points="78.0,476.0 81.0,476.0" fill="none" stroke="#2a3f8f" stroke-width="0.9"/>
<polyline points="80.0,476.6 82.5,476.6" fill="none" stroke="#f08020" stroke-width="0.8"/>
<text class="s k" transform="translate(178.2 471.0) scale(1 1.1)" text-anchor="start" font-size="8.93" fill="#1a1a1a">a-humulene</text>
<polyline points="176.0,467.6 171.6,467.6 165.3,473.6" fill="none" stroke="#ff2020" stroke-width="0.8"/>
<text class="s k" transform="translate(177.3 488.9) scale(1 1.1)" text-anchor="start" font-size="8.93" fill="#1a1a1a">Limonene dioxide 1</text>
<polyline points="165.3,475.0 171.6,485.3 175.6,485.3" fill="none" stroke="#ff2020" stroke-width="0.8"/>
<circle cx="165.0" cy="474.3" r="2.3" fill="#9a9ad8"/>
<circle cx="165.0" cy="474.3" r="1.1" fill="#c8b8e8"/>
<polyline points="143.6,483.2 149.6,483.2" fill="none" stroke="#1f2f7f" stroke-width="0.9"/>
<polyline points="146.6,481.0 146.6,485.4" fill="none" stroke="#1f2f7f" stroke-width="0.9"/>
<text class="s k" transform="translate(46.3 493.5) scale(1 1.1)" text-anchor="start" font-size="8.93" fill="#1a1a1a">1-Methyl-4-(2-methyloxiranyl)-</text>
<text class="s k" transform="translate(46.3 504.4) scale(1 1.1)" text-anchor="start" font-size="8.93" fill="#1a1a1a">7-oxabicyclo 4.1.0 heptane</text>
<text class="s k" transform="translate(158.4 511.7) scale(1 1.1)" text-anchor="start" font-size="8.93" fill="#1a1a1a">Farnesene</text>
<rect x="176.1" y="513.2" width="5.6" height="5.6" fill="#9dc3e6" stroke="none" stroke-width="1"/>
<text class="s" transform="translate(120.2 542.8) scale(1 1.08)" text-anchor="start" font-size="11.85" font-weight="bold" fill="#2c72ba" stroke="#2c72ba" stroke-width="0.15">Ethyl Acetate</text>
<circle cx="191.6" cy="538.0" r="1.3" fill="#f08020"/>
<text class="s k" transform="translate(197.0 557.2) scale(1 1.1)" text-anchor="end" font-size="8.93" fill="#1a1a1a">Endo-8-hydroxy-cycloisolongifolene</text>
<polyline points="199.4,554.2 205.4,554.2 211.5,538.0" fill="none" stroke="#ff2020" stroke-width="0.8"/>
<text class="s k" transform="translate(196.5 566.6) scale(1 1.1)" text-anchor="end" font-size="8.93" fill="#1a1a1a">4-Methyl isopulegone</text>
<polyline points="198.9,563.6 204.9,563.6 211.5,538.0" fill="none" stroke="#ff2020" stroke-width="0.8"/>
<text class="s k" transform="translate(197.0 574.8) scale(1 1.1)" text-anchor="end" font-size="8.93" fill="#1a1a1a">Veridiflorol</text>
<polyline points="199.4,571.8 205.4,571.8 211.5,538.0" fill="none" stroke="#ff2020" stroke-width="0.8"/>
<text class="s k" transform="translate(198.0 581.5) scale(1 1.1)" text-anchor="end" font-size="8.93" fill="#1a1a1a">Ledane</text>
<polyline points="200.4,578.5 206.4,578.5 211.5,538.0" fill="none" stroke="#ff2020" stroke-width="0.8"/>
<text class="s k" transform="translate(209.6 507.3) scale(1 1.1)" text-anchor="start" font-size="8.93" fill="#1a1a1a">Neryl acetone</text>
<polygon points="231.6,508.0 228.4,514.1 234.8,514.1" fill="#92d050"/>
<text class="s k" transform="translate(220.4 524.3) scale(1 1.1)" text-anchor="start" font-size="8.93" fill="#1a1a1a">7-Hydroxymethyl-8-ethoxy-cis-</text>
<text class="s k" transform="translate(220.4 533.7) scale(1 1.1)" text-anchor="start" font-size="8.93" fill="#1a1a1a">bicyclo(4.3.0)-3-nonene</text>
<polyline points="217.3,524.9 212.8,524.9 211.5,538.0" fill="none" stroke="#ff2020" stroke-width="0.8"/>
<text class="s k" transform="translate(223.4 542.5) scale(1 1.1)" text-anchor="start" font-size="8.93" fill="#1a1a1a">Isothujol</text>
<polyline points="220.1,539.5 215.1,539.5 211.5,538.0" fill="none" stroke="#ff2020" stroke-width="0.8"/>
<text class="s k" transform="translate(222.8 549.8) scale(1 1.1)" text-anchor="start" font-size="8.93" fill="#1a1a1a">Carinol</text>
<polyline points="219.5,546.8 214.5,546.8 211.5,538.0" fill="none" stroke="#ff2020" stroke-width="0.8"/>
<text class="s k" transform="translate(222.2 559.2) scale(1 1.1)" text-anchor="start" font-size="8.93" fill="#1a1a1a">Butyl phthalate</text>
<polyline points="218.9,556.2 213.9,556.2 211.5,538.0" fill="none" stroke="#ff2020" stroke-width="0.8"/>
<text class="s k" transform="translate(222.2 566.9) scale(1 1.1)" text-anchor="start" font-size="8.93" fill="#1a1a1a">a-Bisabolol</text>
<polyline points="218.9,563.9 213.9,563.9 211.5,538.0" fill="none" stroke="#ff2020" stroke-width="0.8"/>
<text class="s k" transform="translate(221.3 576.8) scale(1 1.1)" text-anchor="start" font-size="8.93" fill="#1a1a1a">Eucalyptol</text>
<polyline points="218.0,573.8 213.0,573.8 211.5,538.0" fill="none" stroke="#ff2020" stroke-width="0.8"/>
<rect x="209.1" y="535.4" width="4.8" height="4.8" fill="#2c5596" stroke="none" stroke-width="1"/>
<polyline points="209.2,538.4 213.8,538.4" fill="none" stroke="#e03030" stroke-width="1.0"/>
<text class="s k" transform="translate(277.0 547.5) scale(1 1.1)" text-anchor="start" font-size="8.93" fill="#1a1a1a">b-Elemene</text>
<polyline points="269.5,546.3 274.5,546.3" fill="none" stroke="#2a3f8f" stroke-width="0.8"/>
<circle cx="272.0" cy="546.3" r="0.9" fill="#2a3f8f"/>
<text class="s k" transform="translate(179.8 591.0) scale(1 1.1)" text-anchor="end" font-size="8.93" fill="#1a1a1a">3,3,6,6,9,9-Hexamethyl-</text>
<text class="s k" transform="translate(179.5 600.6) scale(1 1.1)" text-anchor="end" font-size="8.93" fill="#1a1a1a">tetracyclo[6.1.0.0(2,4).0(5,7)]nonane</text>
<polyline points="182.0,592.3 190.0,593.0 227.0,594.2" fill="none" stroke="#ff2020" stroke-width="0.8"/>
<text class="s k" transform="translate(176.8 610.0) scale(1 1.1)" text-anchor="end" font-size="8.93" fill="#1a1a1a">4-Butyl phenol</text>
<polyline points="179.0,607.2 184.0,607.2 227.0,594.8" fill="none" stroke="#ff2020" stroke-width="0.8"/>
<text class="s k" transform="translate(245.7 593.0) scale(1 1.1)" text-anchor="start" font-size="8.93" fill="#1a1a1a">a-terpineol</text>
<polyline points="243.5,589.4 238.0,589.4 227.4,602.4" fill="none" stroke="#ff2020" stroke-width="0.8"/>
<circle cx="227.1" cy="603.2" r="2.7" fill="#cfcfcf"/>
<polyline points="225.2,593.9 229.2,593.9" fill="none" stroke="#2a3f8f" stroke-width="0.8"/>
<polyline points="227.2,591.9 227.2,595.9" fill="none" stroke="#2a3f8f" stroke-width="0.8"/>
<text class="s k" transform="translate(230.1 614.4) scale(1 1.1)" text-anchor="start" font-size="8.93" fill="#1a1a1a">a-Bisabololoxide-B</text>
<circle cx="258.2" cy="604.0" r="0.9" fill="#2e75c5"/>
<polyline points="258.0,604.0 261.5,604.0" fill="none" stroke="#2e75c5" stroke-width="0.7"/>
<rect x="288.9" y="474.0" width="6.0" height="6.0" fill="#9dc3e6" stroke="none" stroke-width="1"/>
<text class="s k" transform="translate(320.1 345.3) scale(1 1.1)" text-anchor="start" font-size="8.93" fill="#1a1a1a">Longipinenepoxide</text>
<polyline points="316.1,348.7 318.9,348.7" fill="none" stroke="#d0a040" stroke-width="0.7"/>
<polyline points="317.5,347.3 317.5,350.1" fill="none" stroke="#d0a040" stroke-width="0.7"/>
<circle cx="317.5" cy="348.7" r="0.7" fill="#5a6ab0"/>
<text class="s k" transform="translate(343.0 361.1) scale(1 1.1)" text-anchor="start" font-size="8.93" fill="#1a1a1a">Methyl 11-octadecenoate</text>
<polyline points="341.0,357.4 337.0,357.4 329.4,370.2" fill="none" stroke="#ff2020" stroke-width="0.8"/>
<text class="s k" transform="translate(343.0 372.8) scale(1 1.1)" text-anchor="start" font-size="8.93" fill="#1a1a1a">Methyl 14-methyl pentadecanoate</text>
<polyline points="341.0,369.8 334.0,369.8 329.4,370.7" fill="none" stroke="#ff2020" stroke-width="0.8"/>
<polyline points="327.4,370.9 331.0,370.9" fill="none" stroke="#e0a060" stroke-width="0.7"/>
<polyline points="329.2,369.1 329.2,372.7" fill="none" stroke="#e0a060" stroke-width="0.7"/>
<circle cx="329.2" cy="370.9" r="0.8" fill="#7a6a9a"/>
<text class="s k" transform="translate(415.7 396.3) scale(1 1.1)" text-anchor="start" font-size="8.93" fill="#1a1a1a">Dihydrocarvyl acetate</text>
<circle cx="450.5" cy="386.0" r="0.9" fill="#2e5fb0"/>
<polyline points="450.5,386.2 453.5,386.2" fill="none" stroke="#5a9ad8" stroke-width="0.7"/>
<text class="s k" transform="translate(438.2 422.0) scale(1 1.1)" text-anchor="start" font-size="8.93" fill="#1a1a1a">Patchoulane</text>
<circle cx="483.8" cy="421.6" r="0.9" fill="#1f3c88"/>
<polyline points="484.5,422.2 487.5,422.2" fill="none" stroke="#f08020" stroke-width="0.9"/>
<text class="s k" transform="translate(511.6 444.7) scale(1 1.1)" text-anchor="end" font-size="8.93" fill="#1a1a1a">cis-Myrtanol</text>
<polyline points="514.0,441.7 520.0,441.7 532.4,439.6" fill="none" stroke="#ff2020" stroke-width="0.8"/>
<text class="s k" transform="translate(513.9 453.8) scale(1 1.1)" text-anchor="end" font-size="8.93" fill="#1a1a1a">a-Limonene diepoxide</text>
<polyline points="516.3,450.8 522.3,450.8 532.4,439.6" fill="none" stroke="#ff2020" stroke-width="0.8"/>
<text class="s k" transform="translate(509.2 462.9) scale(1 1.1)" text-anchor="end" font-size="8.93" fill="#1a1a1a">Junipene</text>
<polyline points="511.6,459.9 517.6,459.9 532.4,439.6" fill="none" stroke="#ff2020" stroke-width="0.8"/>
<text class="s k" transform="translate(508.6 472.0) scale(1 1.1)" text-anchor="end" font-size="8.93" fill="#1a1a1a">a-Copaene</text>
<polyline points="511.0,469.0 517.0,469.0 532.4,439.6" fill="none" stroke="#ff2020" stroke-width="0.8"/>
<text class="s k" transform="translate(547.5 369.2) scale(1 1.1)" text-anchor="start" font-size="8.93" fill="#1a1a1a">Globulol</text>
<polyline points="544.7,366.2 540.5,366.2 532.4,439.6" fill="none" stroke="#ff2020" stroke-width="0.8"/>
<text class="s k" transform="translate(548.6 378.6) scale(1 1.1)" text-anchor="start" font-size="8.93" fill="#1a1a1a">Dicholesteryl succinate</text>
<polyline points="545.8,375.6 541.6,375.6 532.4,439.6" fill="none" stroke="#ff2020" stroke-width="0.8"/>
<text class="s k" transform="translate(550.2 386.9) scale(1 1.1)" text-anchor="start" font-size="8.93" fill="#1a1a1a">Kauren-18-ol acetate</text>
<polyline points="547.4,383.9 543.2,383.9 532.4,439.6" fill="none" stroke="#ff2020" stroke-width="0.8"/>
<text class="s k" transform="translate(550.2 395.4) scale(1 1.1)" text-anchor="start" font-size="8.93" fill="#1a1a1a">Kauren-19-yl-acetate</text>
<polyline points="547.4,392.4 543.2,392.4 532.4,439.6" fill="none" stroke="#ff2020" stroke-width="0.8"/>
<text class="s k" transform="translate(550.7 404.0) scale(1 1.1)" text-anchor="start" font-size="8.93" fill="#1a1a1a">Spathulenol</text>
<polyline points="547.9,401.0 543.7,401.0 532.4,439.6" fill="none" stroke="#ff2020" stroke-width="0.8"/>
<text class="s k" transform="translate(552.0 411.4) scale(1 1.1)" text-anchor="start" font-size="8.93" fill="#1a1a1a">3-(Acetylmethyl)-b-pinene</text>
<polyline points="549.2,408.4 545.0,408.4 532.4,439.6" fill="none" stroke="#ff2020" stroke-width="0.8"/>
<text class="s k" transform="translate(554.0 420.0) scale(1 1.1)" text-anchor="start" font-size="8.93" fill="#1a1a1a">Jasmonol</text>
<polyline points="551.2,417.0 547.0,417.0 532.4,439.6" fill="none" stroke="#ff2020" stroke-width="0.8"/>
<text class="s k" transform="translate(555.5 429.3) scale(1 1.1)" text-anchor="start" font-size="8.93" fill="#1a1a1a">Methyl 9,12,15-octadecatrienoate</text>
<polyline points="552.7,426.3 548.5,426.3 532.4,439.6" fill="none" stroke="#ff2020" stroke-width="0.8"/>
<text class="s k" transform="translate(562.0 462.6) scale(1 1.1)" text-anchor="start" font-size="8.93" fill="#1a1a1a">Isopropyl myristate</text>
<polyline points="559.2,459.6 555.0,459.6 532.4,439.6" fill="none" stroke="#ff2020" stroke-width="0.8"/>
<text class="s k" transform="translate(560.0 471.5) scale(1 1.1)" text-anchor="start" font-size="8.93" fill="#1a1a1a">Allyl heptanoate</text>
<polyline points="557.2,468.5 553.0,468.5 532.4,439.6" fill="none" stroke="#ff2020" stroke-width="0.8"/>
<rect x="529.5" y="436.7" width="3.4" height="3.4" fill="#8fb8e8" stroke="none" stroke-width="1"/>
<text class="s" transform="translate(601.0 446.0) scale(1 1.08)" text-anchor="start" font-size="11.85" font-weight="bold" fill="#2c72ba" stroke="#2c72ba" stroke-width="0.15">Hexane</text>
<circle cx="593.4" cy="439.0" r="1.3" fill="#f08020"/>
<text class="s k" transform="translate(365.0 509.4) scale(1 1.1)" text-anchor="start" font-size="8.93" fill="#1a1a1a">4-Methoxymethyl phenol</text>
<polyline points="361.7,506.4 357.7,506.4 310.4,570.3" fill="none" stroke="#ff2020" stroke-width="0.8"/>
<text class="s k" transform="translate(363.5 520.8) scale(1 1.1)" text-anchor="start" font-size="8.93" fill="#1a1a1a">Aromadendrenepoxide</text>
<polyline points="360.2,517.8 356.2,517.8 310.4,570.3" fill="none" stroke="#ff2020" stroke-width="0.8"/>
<text class="s k" transform="translate(360.0 531.0) scale(1 1.1)" text-anchor="start" font-size="8.93" fill="#1a1a1a">17-Acetoxy-19-kauranal</text>
<polyline points="356.7,528.0 352.7,528.0 310.4,570.3" fill="none" stroke="#ff2020" stroke-width="0.8"/>
<text class="s k" transform="translate(357.6 540.2) scale(1 1.1)" text-anchor="start" font-size="8.93" fill="#1a1a1a">Perilic alcohol</text>
<polyline points="354.3,537.2 350.3,537.2 310.4,570.3" fill="none" stroke="#ff2020" stroke-width="0.8"/>
<text class="s k" transform="translate(351.1 549.3) scale(1 1.1)" text-anchor="start" font-size="8.93" fill="#1a1a1a">(E)-5-Isopropyl-6,7-epoxy-8-hydroxy-</text>
<polyline points="347.8,551.5 343.8,551.5 310.4,570.3" fill="none" stroke="#ff2020" stroke-width="0.8"/>
<text class="s k" transform="translate(352.3 559.5) scale(1 1.1)" text-anchor="start" font-size="8.93" fill="#1a1a1a">8-methylnon-2-one</text>
<text class="s k" transform="translate(339.2 583.0) scale(1 1.1)" text-anchor="start" font-size="8.93" fill="#1a1a1a">a-Copaene-11-ol</text>
<polyline points="335.9,580.0 331.9,580.0 310.4,570.3" fill="none" stroke="#ff2020" stroke-width="0.8"/>
<text class="s k" transform="translate(339.2 593.0) scale(1 1.1)" text-anchor="start" font-size="8.93" fill="#1a1a1a">2,5-Dimethyl-2,5-hexanediol</text>
<polyline points="335.9,590.0 331.9,590.0 310.4,570.3" fill="none" stroke="#ff2020" stroke-width="0.8"/>
<text class="s k" transform="translate(334.8 599.7) scale(1 1.1)" text-anchor="start" font-size="8.93" fill="#1a1a1a">Methyl 5,8-octadecadienoate</text>
<polyline points="331.5,596.7 327.5,596.7 310.4,570.3" fill="none" stroke="#ff2020" stroke-width="0.8"/>
<text class="s k" transform="translate(333.6 607.0) scale(1 1.1)" text-anchor="start" font-size="8.93" fill="#1a1a1a">Myrtenal</text>
<polyline points="330.3,604.0 326.3,604.0 310.4,570.3" fill="none" stroke="#ff2020" stroke-width="0.8"/>
<text class="s k" transform="translate(333.6 615.8) scale(1 1.1)" text-anchor="start" font-size="8.93" fill="#1a1a1a">Ledol</text>
<polyline points="330.3,612.8 326.3,612.8 310.4,570.3" fill="none" stroke="#ff2020" stroke-width="0.8"/>
<rect x="307.5" y="567.6" width="5.4" height="5.4" fill="#d8691f" stroke="none" stroke-width="1"/>
<polyline points="311.0,568.0 311.0,572.6" fill="none" stroke="#e03030" stroke-width="1.2"/>
<text class="s" transform="translate(322.5 573.6) scale(1 1.08)" text-anchor="start" font-size="11.85" font-weight="bold" fill="#2c72ba" stroke="#2c72ba" stroke-width="0.15">Dichloromethane</text>
<text class="s k" transform="translate(423.6 489.7) scale(1 1.1)" text-anchor="start" font-size="8.93" fill="#1a1a1a">a-terpinyl acetate</text>
<polygon points="489.6,478.4 486.5,484.3 492.7,484.3" fill="#a6a6a6"/>
<text class="s k" transform="translate(502.2 510.3) scale(1 1.1)" text-anchor="start" font-size="8.93" fill="#1a1a1a">Squalene</text>
<polyline points="500.7,506.9 495.4,506.9 488.3,522.0" fill="none" stroke="#ff2020" stroke-width="0.8"/>
<text class="s k" transform="translate(503.6 519.6) scale(1 1.1)" text-anchor="start" font-size="8.93" fill="#1a1a1a">Oleic acid</text>
<polyline points="502.0,516.2 497.0,516.2 489.6,522.2" fill="none" stroke="#ff2020" stroke-width="0.8"/>
<text class="s k" transform="translate(503.6 527.0) scale(1 1.1)" text-anchor="start" font-size="8.93" fill="#1a1a1a">Elemol</text>
<polyline points="502.0,524.0 490.0,524.0" fill="none" stroke="#ff2020" stroke-width="0.8"/>
<rect x="484.5" y="520.7" width="5.4" height="5.4" fill="#2b4a9b" stroke="none" stroke-width="1"/>
<rect x="484.5" y="523.6" width="5.4" height="2.5" fill="#4a9a4a" stroke="none" stroke-width="1"/>
<polyline points="488.4,521.5 488.4,525.5" fill="none" stroke="#e03030" stroke-width="1.1"/>
<text class="s k" transform="translate(505.1 543.4) scale(1 1.1)" text-anchor="start" font-size="8.93" fill="#1a1a1a">Nerolidol</text>
<polyline points="503.0,540.4 498.4,540.4 491.6,531.6" fill="none" stroke="#ff2020" stroke-width="0.8"/>
<polyline points="489.0,528.8 493.0,532.8" fill="none" stroke="#f08020" stroke-width="0.9"/>
<polyline points="493.0,528.8 489.0,532.8" fill="none" stroke="#f08020" stroke-width="0.9"/>
<text class="s k" transform="translate(477.2 563.0) scale(1 1.1)" text-anchor="start" font-size="8.93" fill="#1a1a1a">a-Pinene epoxide</text>
<polyline points="475.0,560.0 470.5,560.0 462.3,543.2" fill="none" stroke="#ff2020" stroke-width="0.8"/>
<text class="s k" transform="translate(477.0 571.8) scale(1 1.1)" text-anchor="start" font-size="8.93" fill="#1a1a1a">Geranyl linalool</text>
<polyline points="475.0,568.8 469.0,568.8 461.7,544.0" fill="none" stroke="#ff2020" stroke-width="0.8"/>
<polygon points="462.3,539.6 465.1,542.4 462.3,545.2 459.5,542.4" fill="#3a4fa8"/>
<text class="s k" transform="translate(563.5 487.9) scale(1 1.1)" text-anchor="start" font-size="8.93" fill="#1a1a1a">4-Methyl-(3b,4a)-cholesta-</text>
<text class="s k" transform="translate(563.5 497.5) scale(1 1.1)" text-anchor="start" font-size="8.93" fill="#1a1a1a">8,24-dien-3-ol</text>
<polyline points="561.6,488.9 557.4,488.9 532.0,500.4" fill="none" stroke="#ff2020" stroke-width="0.8"/>
<text class="s k" transform="translate(567.3 506.8) scale(1 1.1)" text-anchor="start" font-size="8.93" fill="#1a1a1a">Nerolidol</text>
<polyline points="564.7,503.8 560.3,503.8 532.0,500.4" fill="none" stroke="#ff2020" stroke-width="0.8"/>
<text class="s k" transform="translate(569.4 515.4) scale(1 1.1)" text-anchor="start" font-size="8.93" fill="#1a1a1a">Stearic acid</text>
<polyline points="566.8,512.4 562.4,512.4 532.0,500.4" fill="none" stroke="#ff2020" stroke-width="0.8"/>
<text class="s k" transform="translate(568.0 524.7) scale(1 1.1)" text-anchor="start" font-size="8.93" fill="#1a1a1a">b-Caryophyllene epoxide</text>
<polyline points="565.4,521.7 561.0,521.7 532.0,500.4" fill="none" stroke="#ff2020" stroke-width="0.8"/>
<rect x="529.3" y="497.7" width="5.4" height="5.4" fill="#ffc000" stroke="none" stroke-width="1"/>
<rect x="531.3" y="499.3" width="2.6" height="2.6" fill="#ed7d31" stroke="none" stroke-width="1"/>
<polyline points="530.0,498.5 534.0,502.5" fill="none" stroke="#e03030" stroke-width="0.9"/>
<rect x="3.4" y="669.6" width="206.4" height="269.8" fill="none" stroke="#111" stroke-width="1.3"/>
<rect x="36.4" y="678.7" width="160.9" height="160.8" fill="#fff" stroke="#c8c8c8" stroke-width="0.7"/>
<text class="s" x="31.6" y="841.5" text-anchor="end" font-size="5.3" fill="#2c2c2c" textLength="2.8" lengthAdjust="spacingAndGlyphs">0</text>
<polyline points="34.8,839.5 36.4,839.5" fill="none" stroke="#999" stroke-width="0.5"/>
<text class="s" x="31.6" y="825.5" text-anchor="end" font-size="5.3" fill="#2c2c2c" textLength="5.5" lengthAdjust="spacingAndGlyphs">50</text>
<polyline points="34.8,823.4 36.4,823.4" fill="none" stroke="#999" stroke-width="0.5"/>
<text class="s" x="31.6" y="809.4" text-anchor="end" font-size="5.3" fill="#2c2c2c" textLength="8.2" lengthAdjust="spacingAndGlyphs">100</text>
<polyline points="34.8,807.3 36.4,807.3" fill="none" stroke="#999" stroke-width="0.5"/>
<text class="s" x="31.6" y="793.3" text-anchor="end" font-size="5.3" fill="#2c2c2c" textLength="8.2" lengthAdjust="spacingAndGlyphs">150</text>
<polyline points="34.8,791.3 36.4,791.3" fill="none" stroke="#999" stroke-width="0.5"/>
<text class="s" x="31.6" y="777.2" text-anchor="end" font-size="5.3" fill="#2c2c2c" textLength="8.2" lengthAdjust="spacingAndGlyphs">200</text>
<polyline points="34.8,775.2 36.4,775.2" fill="none" stroke="#999" stroke-width="0.5"/>
<text class="s" x="31.6" y="761.1" text-anchor="end" font-size="5.3" fill="#2c2c2c" textLength="8.2" lengthAdjust="spacingAndGlyphs">250</text>
<polyline points="34.8,759.1 36.4,759.1" fill="none" stroke="#999" stroke-width="0.5"/>
<text class="s" x="31.6" y="745.1" text-anchor="end" font-size="5.3" fill="#2c2c2c" textLength="8.2" lengthAdjust="spacingAndGlyphs">300</text>
<polyline points="34.8,743.0 36.4,743.0" fill="none" stroke="#999" stroke-width="0.5"/>
<text class="s" x="31.6" y="729.0" text-anchor="end" font-size="5.3" fill="#2c2c2c" textLength="8.2" lengthAdjust="spacingAndGlyphs">350</text>
<polyline points="34.8,726.9 36.4,726.9" fill="none" stroke="#999" stroke-width="0.5"/>
<text class="s" x="31.6" y="712.9" text-anchor="end" font-size="5.3" fill="#2c2c2c" textLength="8.2" lengthAdjust="spacingAndGlyphs">400</text>
<polyline points="34.8,710.9 36.4,710.9" fill="none" stroke="#999" stroke-width="0.5"/>
<text class="s" x="31.6" y="696.8" text-anchor="end" font-size="5.3" fill="#2c2c2c" textLength="8.2" lengthAdjust="spacingAndGlyphs">450</text>
<polyline points="34.8,694.8 36.4,694.8" fill="none" stroke="#999" stroke-width="0.5"/>
<text class="s" x="31.6" y="680.7" text-anchor="end" font-size="5.3" fill="#2c2c2c" textLength="8.2" lengthAdjust="spacingAndGlyphs">500</text>
<polyline points="34.8,678.7 36.4,678.7" fill="none" stroke="#999" stroke-width="0.5"/>
<text class="s" x="15.6" y="777.8" text-anchor="middle" font-size="5.6" font-weight="bold" fill="#222" transform="rotate(-90 15.6 776.3)" textLength="39.2" lengthAdjust="spacingAndGlyphs">Dissimilarity</text>
<text class="n" x="43.2" y="699.7" text-anchor="start" font-size="12.1" font-weight="bold" fill="#000">(c)</text>
<polyline points="36.4,747.5 197.3,747.5" fill="none" stroke="#9a9a9a" stroke-width="0.7"/>
<polyline points="36.4,678.7 36.4,839.5 197.3,839.5" fill="none" stroke="#8c8c8c" stroke-width="0.8"/>
<polyline points="63.4,839.5 63.4,817.0 90.0,817.0 90.0,839.5" fill="none" stroke="#5aa832" stroke-width="1.25"/>
<polyline points="144.0,839.5 144.0,817.6 171.0,817.6 171.0,839.5" fill="none" stroke="#e0305a" stroke-width="1.25"/>
<polyline points="117.0,839.5 117.0,792.3 157.5,792.3 157.5,817.6" fill="none" stroke="#e0305a" stroke-width="1.25"/>
<polyline points="76.9,817.0 76.9,700.6 137.3,700.6 137.3,792.3" fill="none" stroke="#222" stroke-width="1.1"/>
<circle cx="63.4" cy="839.5" r="1.15" fill="#222"/>
<circle cx="90.0" cy="839.5" r="1.15" fill="#222"/>
<circle cx="117.0" cy="839.5" r="1.15" fill="#222"/>
<circle cx="144.0" cy="839.5" r="1.15" fill="#222"/>
<circle cx="171.0" cy="839.5" r="1.15" fill="#222"/>
<circle cx="63.4" cy="817.0" r="1.15" fill="#222"/>
<circle cx="90.0" cy="817.0" r="1.15" fill="#222"/>
<circle cx="76.9" cy="817.0" r="1.15" fill="#222"/>
<circle cx="144.0" cy="817.6" r="1.15" fill="#222"/>
<circle cx="171.0" cy="817.6" r="1.15" fill="#222"/>
<circle cx="157.5" cy="817.6" r="1.15" fill="#222"/>
<circle cx="117.0" cy="792.3" r="1.15" fill="#222"/>
<circle cx="157.5" cy="792.3" r="1.15" fill="#222"/>
<circle cx="137.3" cy="792.3" r="1.15" fill="#222"/>
<circle cx="76.9" cy="700.6" r="1.15" fill="#222"/>
<circle cx="137.3" cy="700.6" r="1.15" fill="#222"/>
<circle cx="107.3" cy="700.6" r="1.15" fill="#222"/>
<rect x="169.2" y="698.9" width="21.4" height="22.4" fill="#fff" stroke="#888" stroke-width="0.7"/>
<polyline points="171.0,704.8 182.0,704.8" fill="none" stroke="#5aa832" stroke-width="1.4"/>
<text class="s k" transform="translate(182.3 707.3) scale(1 1.3)" text-anchor="start" font-size="5.9" fill="#1a1a1a">C2</text>
<polyline points="171.0,715.6 182.0,715.6" fill="none" stroke="#e0305a" stroke-width="1.4"/>
<text class="s k" transform="translate(182.3 718.1) scale(1 1.3)" text-anchor="start" font-size="5.9" fill="#1a1a1a">C1</text>
<text class="s k" x="60.2" y="836.2" font-size="5.2" fill="#1a1a1a" transform="rotate(-90 60.2 836.2)" textLength="37.3" lengthAdjust="spacingAndGlyphs">Ethyl acetate</text>
<text class="s k" x="97.1" y="835.2" font-size="5.2" fill="#1a1a1a" transform="rotate(-90 97.1 835.2)" textLength="26.7" lengthAdjust="spacingAndGlyphs">Methanol</text>
<text class="s k" x="115.2" y="836.4" font-size="5.0" fill="#1a1a1a" transform="rotate(-90 115.2 836.4)" textLength="33.2" lengthAdjust="spacingAndGlyphs">Distillation</text>
<text class="s k" x="141.2" y="835.4" font-size="5.2" fill="#1a1a1a" transform="rotate(-90 141.2 835.4)" textLength="27.5" lengthAdjust="spacingAndGlyphs">n-Hexane</text>
<text class="s k" x="168.2" y="837.0" font-size="5.2" fill="#1a1a1a" transform="rotate(-90 168.2 837.0)" textLength="16.0" lengthAdjust="spacingAndGlyphs">DCM</text>
<polyline points="19.2,855.5 206.4,855.5" fill="none" stroke="#333" stroke-width="0.8"/>
<polyline points="19.2,871.5 206.4,871.5" fill="none" stroke="#333" stroke-width="0.8"/>
<polyline points="19.2,932.5 206.4,932.5" fill="none" stroke="#333" stroke-width="0.9"/>
<text class="s" x="23.0" y="866.7" text-anchor="start" font-size="9.35" font-weight="bold" fill="#111">Observation</text>
<text class="s" x="81.6" y="866.7" text-anchor="start" font-size="9.35" font-weight="bold" fill="#111">Cluster</text>
<text class="s" x="121.4" y="866.7" text-anchor="start" font-size="9.35" font-weight="bold" fill="#111">Distance to centroid</text>
<text class="s k" x="23.0" y="881.6" text-anchor="start" font-size="9.55" fill="#1a1a1a">n-Hexane</text>
<text class="s k" x="108.6" y="881.6" text-anchor="middle" font-size="9.55" fill="#1a1a1a">1</text>
<text class="s k" x="161.2" y="881.6" text-anchor="middle" font-size="9.55" fill="#1a1a1a">7.441</text>
<text class="s k" x="23.0" y="894.1" text-anchor="start" font-size="9.55" fill="#1a1a1a">DCM</text>
<text class="s k" x="108.6" y="894.1" text-anchor="middle" font-size="9.55" fill="#1a1a1a">1</text>
<text class="s k" x="161.2" y="894.1" text-anchor="middle" font-size="9.55" fill="#1a1a1a">7.748</text>
<text class="s k" x="23.0" y="906.4" text-anchor="start" font-size="9.55" fill="#1a1a1a">Ethyl acetate</text>
<text class="s k" x="108.6" y="906.4" text-anchor="middle" font-size="9.55" fill="#1a1a1a">2</text>
<text class="s k" x="161.2" y="906.4" text-anchor="middle" font-size="9.55" fill="#1a1a1a">5.848</text>
<text class="s k" x="23.0" y="918.5" text-anchor="start" font-size="9.55" fill="#1a1a1a">Methanol</text>
<text class="s k" x="108.6" y="918.5" text-anchor="middle" font-size="9.55" fill="#1a1a1a">2</text>
<text class="s k" x="161.2" y="918.5" text-anchor="middle" font-size="9.55" fill="#1a1a1a">5.848</text>
<text class="s k" x="23.0" y="931.0" text-anchor="start" font-size="9.55" fill="#1a1a1a">Distillation</text>
<text class="s k" x="108.6" y="931.0" text-anchor="middle" font-size="9.55" fill="#1a1a1a">1</text>
<text class="s k" x="161.2" y="931.0" text-anchor="middle" font-size="9.55" fill="#1a1a1a">9.829</text>
<rect x="212.9" y="668.9" width="217.2" height="272.1" fill="none" stroke="#111" stroke-width="1.4"/>
<rect x="241.0" y="677.0" width="183.6" height="165.5" fill="#fff" stroke="#c8c8c8" stroke-width="0.7"/>
<text class="s" x="235.8" y="845.4" text-anchor="end" font-size="6.9" fill="#2c2c2c">0</text>
<polyline points="238.6,842.5 241.0,842.5" fill="none" stroke="#999" stroke-width="0.5"/>
<text class="s" x="235.8" y="817.8" text-anchor="end" font-size="6.9" fill="#2c2c2c">20</text>
<polyline points="238.6,814.9 241.0,814.9" fill="none" stroke="#999" stroke-width="0.5"/>
<text class="s" x="235.8" y="790.2" text-anchor="end" font-size="6.9" fill="#2c2c2c">40</text>
<polyline points="238.6,787.3 241.0,787.3" fill="none" stroke="#999" stroke-width="0.5"/>
<text class="s" x="235.8" y="762.6" text-anchor="end" font-size="6.9" fill="#2c2c2c">60</text>
<polyline points="238.6,759.8 241.0,759.8" fill="none" stroke="#999" stroke-width="0.5"/>
<text class="s" x="235.8" y="735.0" text-anchor="end" font-size="6.9" fill="#2c2c2c">80</text>
<polyline points="238.6,732.2 241.0,732.2" fill="none" stroke="#999" stroke-width="0.5"/>
<text class="s" x="235.8" y="707.5" text-anchor="end" font-size="6.9" fill="#2c2c2c">100</text>
<polyline points="238.6,704.6 241.0,704.6" fill="none" stroke="#999" stroke-width="0.5"/>
<text class="s" x="235.8" y="679.9" text-anchor="end" font-size="6.9" fill="#2c2c2c">120</text>
<polyline points="238.6,677.0 241.0,677.0" fill="none" stroke="#999" stroke-width="0.5"/>
<text class="s" x="221.6" y="762.8" text-anchor="middle" font-size="7.4" font-weight="bold" fill="#222" transform="rotate(-90 221.6 760.8)" textLength="43.5" lengthAdjust="spacingAndGlyphs">Dissimilarity</text>
<text class="n" x="344.5" y="698.3" text-anchor="start" font-size="13.4" font-weight="bold" fill="#000">(d)</text>
<polyline points="241.0,739.0 424.6,739.0" fill="none" stroke="#a8a8a8" stroke-width="1.0"/>
<polyline points="241.0,677.0 241.0,842.5 424.6,842.5" fill="none" stroke="#8c8c8c" stroke-width="0.8"/>
<polyline points="362.4,842.5 362.4,775.6 393.0,775.6 393.0,842.5" fill="none" stroke="#34ad68" stroke-width="1.25"/>
<polyline points="332.1,842.5 332.1,751.0 377.5,751.0 377.5,775.6" fill="none" stroke="#34ad68" stroke-width="1.25"/>
<polyline points="301.5,842.5 301.5,725.7 354.6,725.7 354.6,751.0" fill="none" stroke="#f02828" stroke-width="1.25"/>
<polyline points="271.2,842.5 271.2,703.1 327.9,703.1 327.9,725.7" fill="none" stroke="#f02828" stroke-width="1.25"/>
<rect x="270.2" y="841.5" width="1.9" height="1.9" fill="#f02828" stroke="none" stroke-width="1"/>
<rect x="300.6" y="841.5" width="1.9" height="1.9" fill="#f02828" stroke="none" stroke-width="1"/>
<rect x="331.2" y="841.5" width="1.9" height="1.9" fill="#f02828" stroke="none" stroke-width="1"/>
<rect x="361.4" y="841.5" width="1.9" height="1.9" fill="#f02828" stroke="none" stroke-width="1"/>
<rect x="392.1" y="841.5" width="1.9" height="1.9" fill="#f02828" stroke="none" stroke-width="1"/>
<rect x="361.4" y="774.6" width="1.9" height="1.9" fill="#f02828" stroke="none" stroke-width="1"/>
<rect x="392.1" y="774.6" width="1.9" height="1.9" fill="#f02828" stroke="none" stroke-width="1"/>
<rect x="376.6" y="774.6" width="1.9" height="1.9" fill="#f02828" stroke="none" stroke-width="1"/>
<rect x="331.2" y="750.0" width="1.9" height="1.9" fill="#f02828" stroke="none" stroke-width="1"/>
<rect x="376.6" y="750.0" width="1.9" height="1.9" fill="#f02828" stroke="none" stroke-width="1"/>
<rect x="353.7" y="750.0" width="1.9" height="1.9" fill="#f02828" stroke="none" stroke-width="1"/>
<rect x="300.6" y="724.8" width="1.9" height="1.9" fill="#f02828" stroke="none" stroke-width="1"/>
<rect x="353.7" y="724.8" width="1.9" height="1.9" fill="#f02828" stroke="none" stroke-width="1"/>
<rect x="326.9" y="724.8" width="1.9" height="1.9" fill="#f02828" stroke="none" stroke-width="1"/>
<rect x="270.2" y="702.1" width="1.9" height="1.9" fill="#f02828" stroke="none" stroke-width="1"/>
<rect x="326.9" y="702.1" width="1.9" height="1.9" fill="#f02828" stroke="none" stroke-width="1"/>
<rect x="298.4" y="702.1" width="1.9" height="1.9" fill="#f02828" stroke="none" stroke-width="1"/>
<rect x="394.1" y="686.5" width="23.0" height="34.0" fill="#fff" stroke="#888" stroke-width="0.7"/>
<polyline points="396.0,692.5 407.3,692.5" fill="none" stroke="#2f4f9f" stroke-width="1.2"/>
<text class="s k" transform="translate(407.6 695.1) scale(1 1.25)" text-anchor="start" font-size="6.3" fill="#1a1a1a">C3</text>
<polyline points="396.0,703.6 407.3,703.6" fill="none" stroke="#f0305a" stroke-width="1.2"/>
<text class="s k" transform="translate(407.6 706.2) scale(1 1.25)" text-anchor="start" font-size="6.3" fill="#1a1a1a">C2</text>
<polyline points="396.0,714.6 407.3,714.6" fill="none" stroke="#34ad68" stroke-width="1.2"/>
<text class="s k" transform="translate(407.6 717.2) scale(1 1.25)" text-anchor="start" font-size="6.3" fill="#1a1a1a">C1</text>
<text class="s k" x="269.2" y="839.0" font-size="7.0" fill="#1a1a1a" transform="rotate(-90 269.2 839.0)" textLength="24.0" lengthAdjust="spacingAndGlyphs">Hexane</text>
<text class="s k" x="299.8" y="839.0" font-size="7.0" fill="#1a1a1a" transform="rotate(-90 299.8 839.0)" textLength="17.5" lengthAdjust="spacingAndGlyphs">DCM</text>
<text class="s k" x="330.6" y="840.0" font-size="7.0" fill="#1a1a1a" transform="rotate(-90 330.6 840.0)" textLength="42.7" lengthAdjust="spacingAndGlyphs">Ethyl Acetate</text>
<text class="s k" x="360.8" y="839.0" font-size="7.0" fill="#1a1a1a" transform="rotate(-90 360.8 839.0)" textLength="29.5" lengthAdjust="spacingAndGlyphs">Methanol</text>
<text class="s k" x="390.7" y="837.5" font-size="7.0" fill="#1a1a1a" transform="rotate(-90 390.7 837.5)" textLength="34.0" lengthAdjust="spacingAndGlyphs">Distillation</text>
<polyline points="226.9,854.5 422.2,854.5" fill="none" stroke="#333" stroke-width="0.8"/>
<polyline points="226.9,873.5 422.2,873.5" fill="none" stroke="#333" stroke-width="0.8"/>
<polyline points="226.9,935.5 422.2,935.5" fill="none" stroke="#333" stroke-width="0.8"/>
<text class="s" x="235.3" y="867.4" text-anchor="start" font-size="8.75" font-weight="bold" fill="#111">Observation</text>
<text class="s" x="294.4" y="867.4" text-anchor="start" font-size="8.75" font-weight="bold" fill="#111">Cluster</text>
<text class="s" x="337.4" y="867.4" text-anchor="start" font-size="8.75" font-weight="bold" fill="#111">Distance to centroid</text>
<text class="s k" x="231.8" y="883.4" text-anchor="start" font-size="8.95" fill="#1a1a1a">Methanol</text>
<text class="s k" x="320.8" y="883.4" text-anchor="middle" font-size="8.95" fill="#1a1a1a">1</text>
<text class="s k" x="417.6" y="883.4" text-anchor="end" font-size="8.95" fill="#1a1a1a">6.298</text>
<text class="s k" x="231.8" y="896.2" text-anchor="start" font-size="8.95" fill="#1a1a1a">Ethyl Acetate</text>
<text class="s k" x="320.8" y="896.2" text-anchor="middle" font-size="8.95" fill="#1a1a1a">1</text>
<text class="s k" x="417.6" y="896.2" text-anchor="end" font-size="8.95" fill="#1a1a1a">6.636</text>
<text class="s k" x="231.8" y="909.0" text-anchor="start" font-size="8.95" fill="#1a1a1a">DCM</text>
<text class="s k" x="320.8" y="909.0" text-anchor="middle" font-size="8.95" fill="#1a1a1a">2</text>
<text class="s k" x="417.6" y="909.0" text-anchor="end" font-size="8.95" fill="#1a1a1a">0.000</text>
<text class="s k" x="231.8" y="921.2" text-anchor="start" font-size="8.95" fill="#1a1a1a">Hexane</text>
<text class="s k" x="320.8" y="921.2" text-anchor="middle" font-size="8.95" fill="#1a1a1a">3</text>
<text class="s k" x="417.6" y="921.2" text-anchor="end" font-size="8.95" fill="#1a1a1a">0.000</text>
<text class="s k" x="231.8" y="934.0" text-anchor="start" font-size="8.95" fill="#1a1a1a">Distillation</text>
<text class="s k" x="320.8" y="934.0" text-anchor="middle" font-size="8.95" fill="#1a1a1a">1</text>
<text class="s k" x="417.6" y="934.0" text-anchor="end" font-size="8.95" fill="#1a1a1a">5.528</text>
<rect x="435.6" y="665.0" width="237.4" height="276.0" fill="none" stroke="#111" stroke-width="1.3"/>
<text class="n" x="452.4" y="689.1" text-anchor="start" font-size="12.5" font-weight="bold" fill="#000">(e)</text>
<polyline points="483.7,701.6 493.6,856.0" fill="none" stroke="#e9e9e9" stroke-width="0.6"/>
<polyline points="493.6,856.0 609.7,906.2" fill="none" stroke="#e9e9e9" stroke-width="0.6"/>
<polyline points="511.0,687.5 518.3,836.8" fill="none" stroke="#e9e9e9" stroke-width="0.6"/>
<polyline points="518.3,836.8 631.8,882.0" fill="none" stroke="#e9e9e9" stroke-width="0.6"/>
<polyline points="534.6,675.4 539.7,820.3" fill="none" stroke="#e9e9e9" stroke-width="0.6"/>
<polyline points="539.7,820.3 650.9,861.1" fill="none" stroke="#e9e9e9" stroke-width="0.6"/>
<polyline points="457.1,748.5 546.3,698.4 664.5,726.4" fill="none" stroke="#e9e9e9" stroke-width="0.6"/>
<polyline points="459.7,780.5 547.1,726.9 663.3,757.6" fill="none" stroke="#e9e9e9" stroke-width="0.6"/>
<polyline points="462.1,811.5 547.9,754.6 662.1,787.9" fill="none" stroke="#e9e9e9" stroke-width="0.6"/>
<polyline points="464.6,842.2 548.7,782.0 661.0,818.0" fill="none" stroke="#e9e9e9" stroke-width="0.6"/>
<polyline points="466.7,869.2 549.4,806.2 660.0,844.4" fill="none" stroke="#e9e9e9" stroke-width="0.6"/>
<polyline points="578.0,676.6 579.3,823.1" fill="none" stroke="#e9e9e9" stroke-width="0.6"/>
<polyline points="579.3,823.1 499.4,891.4" fill="none" stroke="#e9e9e9" stroke-width="0.6"/>
<polyline points="611.6,683.7 610.2,833.9" fill="none" stroke="#e9e9e9" stroke-width="0.6"/>
<polyline points="610.2,833.9 532.7,907.0" fill="none" stroke="#e9e9e9" stroke-width="0.6"/>
<polyline points="641.7,690.0 637.7,843.6" fill="none" stroke="#e9e9e9" stroke-width="0.6"/>
<polyline points="637.7,843.6 566.0,922.5" fill="none" stroke="#e9e9e9" stroke-width="0.6"/>
<polyline points="454.6,716.5 545.5,669.8 665.7,695.1" fill="none" stroke="#cfcfcf" stroke-width="0.7"/>
<polyline points="545.5,669.8 549.6,812.6" fill="none" stroke="#c4c4c4" stroke-width="0.7"/>
<polyline points="467.3,876.4 549.6,812.6 659.7,851.4" fill="none" stroke="#a8a8a8" stroke-width="0.8"/>
<polyline points="665.7,695.1 659.7,851.4" fill="none" stroke="#c0c0c0" stroke-width="0.7"/>
<polyline points="454.6,716.5 467.3,876.4" fill="none" stroke="#3a3a3a" stroke-width="1.0"/>
<polyline points="467.3,876.4 586.2,932.0 659.7,851.4" fill="none" stroke="#3a3a3a" stroke-width="1.0"/>
<text class="n" x="447.6" y="721.3" text-anchor="middle" font-size="6.2" fill="#2e2e2e" transform="rotate(-28 447.6 719.6)" font-style="italic">1,5</text>
<text class="n" x="449.5" y="754.1" text-anchor="middle" font-size="6.2" fill="#2e2e2e" transform="rotate(-28 449.5 752.4)" font-style="italic">1,0</text>
<text class="n" x="452.4" y="785.6" text-anchor="middle" font-size="6.2" fill="#2e2e2e" transform="rotate(-28 452.4 783.9)" font-style="italic">0,5</text>
<text class="n" x="455.0" y="816.1" text-anchor="middle" font-size="6.2" fill="#2e2e2e" transform="rotate(-28 455.0 814.4)" font-style="italic">0,0</text>
<text class="n" x="457.2" y="846.3" text-anchor="middle" font-size="6.2" fill="#2e2e2e" transform="rotate(-28 457.2 844.6)" font-style="italic">-0,5</text>
<text class="n" x="459.0" y="873.4" text-anchor="middle" font-size="6.2" fill="#2e2e2e" transform="rotate(-28 459.0 871.7)" font-style="italic">-1,0</text>
<text class="n" x="444.0" y="812.7" text-anchor="middle" font-size="8.0" fill="#222" transform="rotate(84 444.0 810.5)" textLength="63.6" lengthAdjust="spacingAndGlyphs">PC 3 (21.40%)</text>
<text class="n" x="511.2" y="916.7" text-anchor="middle" font-size="7.8" fill="#222" transform="rotate(29 511.2 914.6)" font-style="italic" textLength="53.2" lengthAdjust="spacingAndGlyphs">PC 1 (34.96%)</text>
<text class="n" x="642.0" y="898.1" text-anchor="middle" font-size="7.8" fill="#222" transform="rotate(-46 642.0 896.0)" textLength="45.0" lengthAdjust="spacingAndGlyphs">PC 2 (29.10%)</text>
<text class="n" x="462.1" y="882.2" text-anchor="middle" font-size="6.0" fill="#2e2e2e" transform="rotate(-55 462.1 880.6)">2</text>
<text class="n" x="496.2" y="895.2" text-anchor="middle" font-size="6.0" fill="#2e2e2e" transform="rotate(-55 496.2 893.6)">1</text>
<text class="n" x="528.0" y="912.4" text-anchor="middle" font-size="6.0" fill="#2e2e2e" transform="rotate(-55 528.0 910.8)">0</text>
<text class="n" x="561.9" y="930.0" text-anchor="middle" font-size="6.0" fill="#2e2e2e" transform="rotate(-55 561.9 928.4)">-1</text>
<text class="n" x="592.0" y="936.9" text-anchor="middle" font-size="6.0" fill="#2e2e2e" transform="rotate(35 592.0 935.3)">2</text>
<text class="n" x="616.0" y="909.8" text-anchor="middle" font-size="6.0" fill="#2e2e2e" transform="rotate(35 616.0 908.2)">1</text>
<text class="n" x="636.8" y="886.5" text-anchor="middle" font-size="6.0" fill="#2e2e2e" transform="rotate(35 636.8 884.9)">0</text>
<text class="n" x="656.6" y="864.7" text-anchor="middle" font-size="6.0" fill="#2e2e2e" transform="rotate(35 656.6 863.1)">-1</text>
<polyline points="467.3,876.4 466.3,878.4" fill="none" stroke="#3a3a3a" stroke-width="0.7"/>
<polyline points="483.4,883.9 482.4,885.9" fill="none" stroke="#3a3a3a" stroke-width="0.7"/>
<polyline points="499.4,891.4 498.4,893.4" fill="none" stroke="#3a3a3a" stroke-width="0.7"/>
<polyline points="516.0,899.2 515.0,901.2" fill="none" stroke="#3a3a3a" stroke-width="0.7"/>
<polyline points="532.7,907.0 531.7,909.0" fill="none" stroke="#3a3a3a" stroke-width="0.7"/>
<polyline points="549.3,914.8 548.3,916.8" fill="none" stroke="#3a3a3a" stroke-width="0.7"/>
<polyline points="566.0,922.5 565.0,924.5" fill="none" stroke="#3a3a3a" stroke-width="0.7"/>
<polyline points="577.9,928.1 576.9,930.1" fill="none" stroke="#3a3a3a" stroke-width="0.7"/>
<polyline points="586.2,932.0 588.2,933.3" fill="none" stroke="#3a3a3a" stroke-width="0.7"/>
<polyline points="598.3,918.7 600.3,920.0" fill="none" stroke="#3a3a3a" stroke-width="0.7"/>
<polyline points="610.5,905.4 612.5,906.7" fill="none" stroke="#3a3a3a" stroke-width="0.7"/>
<polyline points="620.7,894.1 622.7,895.4" fill="none" stroke="#3a3a3a" stroke-width="0.7"/>
<polyline points="631.0,882.8 633.0,884.1" fill="none" stroke="#3a3a3a" stroke-width="0.7"/>
<polyline points="641.0,872.0 643.0,873.3" fill="none" stroke="#3a3a3a" stroke-width="0.7"/>
<polyline points="650.9,861.1 652.9,862.4" fill="none" stroke="#3a3a3a" stroke-width="0.7"/>
<polyline points="659.7,851.4 661.7,852.7" fill="none" stroke="#3a3a3a" stroke-width="0.7"/>
<polyline points="454.6,716.5 452.4,717.1" fill="none" stroke="#3a3a3a" stroke-width="0.7"/>
<polyline points="455.9,732.5 453.7,733.1" fill="none" stroke="#3a3a3a" stroke-width="0.7"/>
<polyline points="457.1,748.5 454.9,749.1" fill="none" stroke="#3a3a3a" stroke-width="0.7"/>
<polyline points="458.4,764.5 456.2,765.1" fill="none" stroke="#3a3a3a" stroke-width="0.7"/>
<polyline points="459.7,780.5 457.5,781.1" fill="none" stroke="#3a3a3a" stroke-width="0.7"/>
<polyline points="460.9,796.0 458.7,796.6" fill="none" stroke="#3a3a3a" stroke-width="0.7"/>
<polyline points="462.1,811.5 459.9,812.1" fill="none" stroke="#3a3a3a" stroke-width="0.7"/>
<polyline points="463.4,826.8 461.2,827.4" fill="none" stroke="#3a3a3a" stroke-width="0.7"/>
<polyline points="464.6,842.2 462.4,842.8" fill="none" stroke="#3a3a3a" stroke-width="0.7"/>
<polyline points="465.6,855.6 463.4,856.2" fill="none" stroke="#3a3a3a" stroke-width="0.7"/>
<polyline points="466.7,869.2 464.5,869.8" fill="none" stroke="#3a3a3a" stroke-width="0.7"/>
<defs><radialGradient id="sph" cx="35%" cy="35%" r="65%"><stop offset="0" stop-color="#ff9a9a"/><stop offset="0.4" stop-color="#d01010"/><stop offset="1" stop-color="#7a0000"/></radialGradient></defs>
<circle cx="613.2" cy="711.0" r="2.5" fill="url(#sph)"/>
<text class="n" transform="translate(616.7 715.1) scale(1 1.2)" text-anchor="start" font-size="8.3" fill="#e01822" textLength="48.6" lengthAdjust="spacingAndGlyphs">Ethyl Acetate</text>
<circle cx="515.5" cy="761.3" r="2.5" fill="url(#sph)"/>
<text class="n" transform="translate(518.6 765.4) scale(1 1.2)" text-anchor="start" font-size="8.3" fill="#e01822" textLength="25.2" lengthAdjust="spacingAndGlyphs">Hexane</text>
<circle cx="593.4" cy="789.7" r="2.5" fill="url(#sph)"/>
<text class="n" transform="translate(596.0 793.8) scale(1 1.2)" text-anchor="start" font-size="8.3" fill="#e01822" textLength="34.0" lengthAdjust="spacingAndGlyphs">Distillation</text>
<circle cx="607.2" cy="838.2" r="2.5" fill="url(#sph)"/>
<text class="n" transform="translate(609.9 842.3) scale(1 1.2)" text-anchor="start" font-size="8.3" fill="#e01822" textLength="29.0" lengthAdjust="spacingAndGlyphs">Methanol</text>
<circle cx="563.2" cy="874.9" r="2.5" fill="url(#sph)"/>
<text class="n" transform="translate(566.3 879.0) scale(1 1.2)" text-anchor="start" font-size="8.3" fill="#e01822" textLength="18.5" lengthAdjust="spacingAndGlyphs">DCM</text>
</g>
</svg>
</body></html>
